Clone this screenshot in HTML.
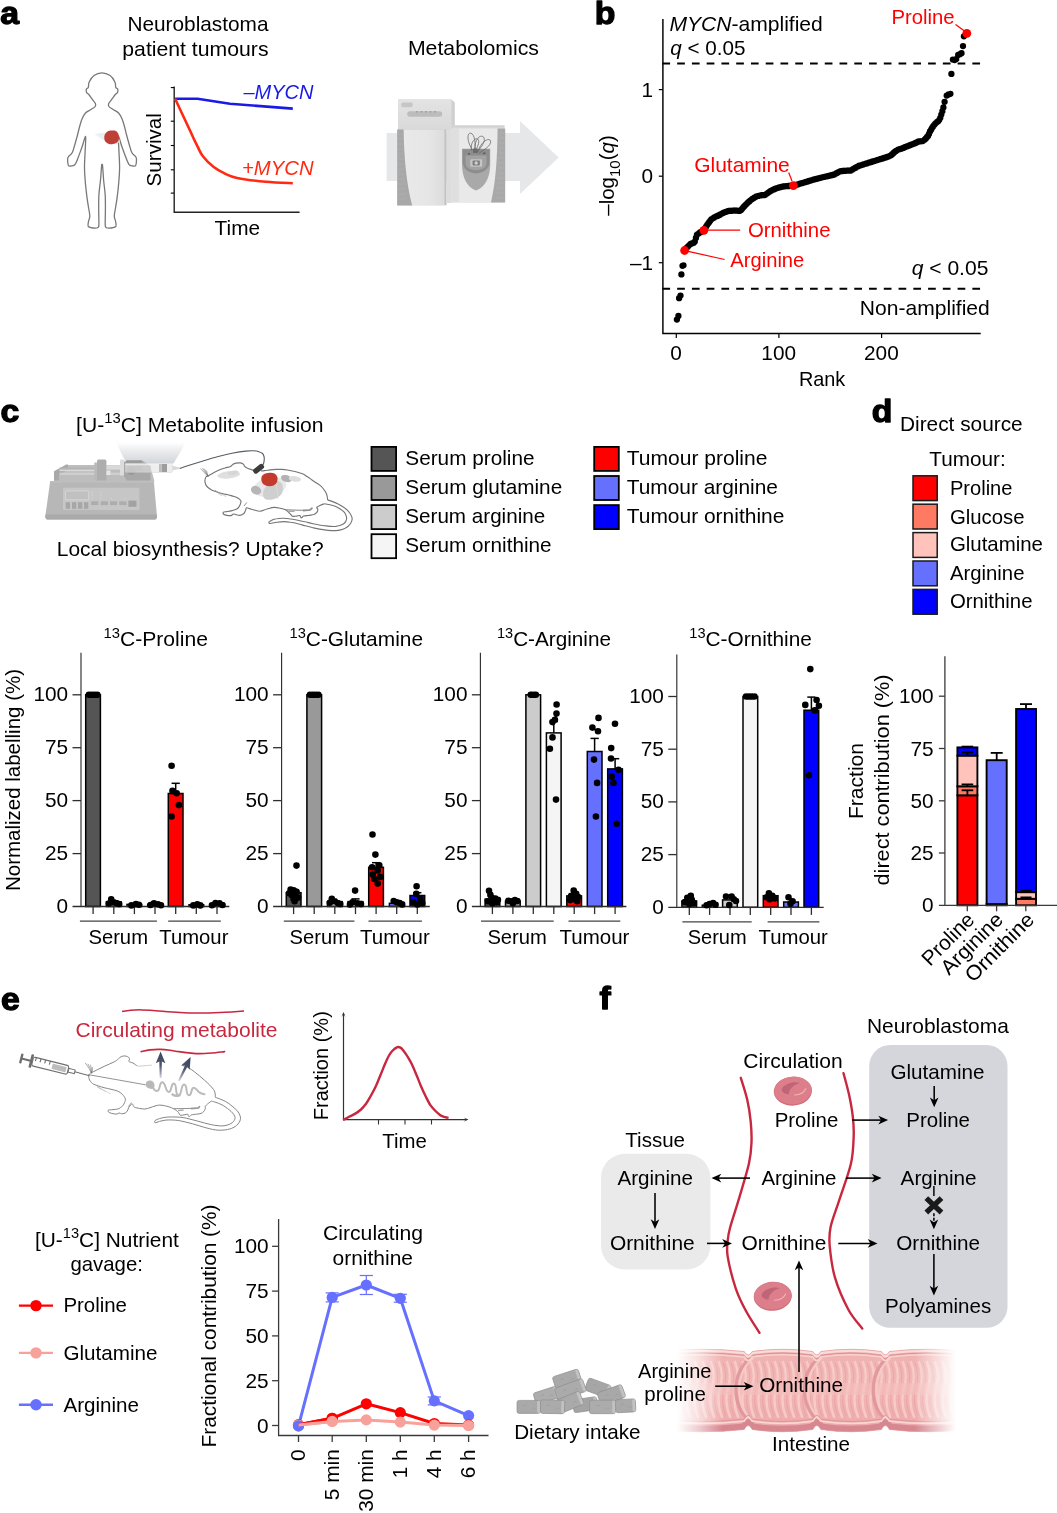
<!DOCTYPE html>
<html><head><meta charset="utf-8"><title>Figure</title>
<style>
html,body{margin:0;padding:0;background:#fff;}
svg{display:block;will-change:transform;font-family:"Liberation Sans", sans-serif;font-size:20.8px;}
text{font-family:"Liberation Sans", sans-serif;}
</style></head><body>
<svg width="1057" height="1513" viewBox="0 0 1057 1513">
<rect width="1057" height="1513" fill="#fff"/>
<g id="pa">
<text transform="translate(0.3 24.2) scale(1.09 1)" font-size="31" font-weight="bold" stroke="#000" stroke-width="1.25" stroke-linejoin="round">a</text>
<text x="127.4" y="31.4" textLength="141.1" lengthAdjust="spacingAndGlyphs">Neuroblastoma</text>
<text x="122.3" y="55.6" textLength="146.2" lengthAdjust="spacingAndGlyphs">patient tumours</text>
<text x="407.9" y="54.9" textLength="131.1" lengthAdjust="spacingAndGlyphs">Metabolomics</text>
<path d="M101.7 72.8C99.0 72.8 96.1 74.0 94.0 75.5C91.9 77.0 90.2 80.0 89.2 82.0C88.2 84.0 88.8 86.3 88.3 87.5C87.8 88.7 86.7 88.2 86.4 89.0C86.1 89.8 86.2 91.6 86.6 92.5C87.0 93.4 87.9 93.4 88.8 94.5C89.7 95.6 91.1 97.7 92.2 99.2C93.3 100.7 94.9 102.3 95.4 103.5C95.9 104.7 95.9 105.5 95.2 106.5C94.5 107.5 92.6 108.4 91.0 109.5C89.4 110.6 87.0 111.4 85.5 113.0C84.0 114.6 83.0 116.7 82.0 119.0C81.0 121.3 80.2 124.3 79.5 127.0C78.8 129.7 78.2 132.2 77.5 135.0C76.8 137.8 75.9 141.1 75.0 144.0C74.1 146.9 73.4 150.4 72.3 152.5C71.2 154.6 69.3 155.3 68.5 156.5C67.7 157.7 67.6 158.0 67.6 159.5C67.6 161.0 67.8 164.4 68.4 165.5C69.0 166.6 69.9 166.1 71.0 166.0C72.1 165.9 73.6 166.1 74.8 164.8C76.0 163.5 76.8 161.0 78.0 158.0C79.2 155.0 80.7 150.6 82.0 147.0C83.3 143.4 85.1 136.0 85.6 136.5C86.1 137.0 85.4 144.9 85.2 150.0C85.0 155.1 84.5 161.7 84.5 167.0C84.5 172.3 84.9 177.0 85.3 182.0C85.7 187.0 86.4 192.5 86.9 196.8C87.5 201.1 88.1 204.8 88.6 208.0C89.1 211.2 89.8 213.7 89.8 216.0C89.8 218.3 88.7 220.2 88.4 222.0C88.2 223.8 87.5 225.5 88.3 226.5C89.1 227.5 91.4 227.8 93.0 228.0C94.6 228.2 97.0 228.2 98.0 227.5C99.0 226.8 98.8 226.9 98.9 224.0C99.0 221.1 98.7 214.8 98.7 210.0C98.7 205.2 98.6 200.0 98.9 195.0C99.2 190.0 100.0 184.8 100.5 180.0C101.0 175.2 101.3 168.6 101.6 166.0C101.8 163.4 101.8 164.6 102.0 164.6C102.2 164.6 102.3 163.4 102.6 166.0C102.9 168.6 103.2 175.2 103.6 180.0C104.0 184.8 104.9 190.0 105.2 195.0C105.5 200.0 105.4 205.2 105.4 210.0C105.4 214.8 105.1 221.1 105.2 224.0C105.3 226.9 105.0 226.8 106.0 227.5C107.0 228.2 109.4 228.2 111.0 228.0C112.6 227.8 115.0 227.5 115.8 226.5C116.6 225.5 116.0 223.8 115.7 222.0C115.5 220.2 114.3 218.3 114.3 216.0C114.3 213.7 115.0 211.2 115.5 208.0C116.0 204.8 116.7 201.1 117.2 196.8C117.8 192.5 118.4 187.0 118.8 182.0C119.2 177.0 119.6 172.3 119.6 167.0C119.6 161.7 119.1 155.1 118.9 150.0C118.7 144.9 118.0 137.0 118.5 136.5C119.0 136.0 120.7 143.4 122.0 147.0C123.3 150.6 124.9 155.0 126.1 158.0C127.3 161.0 128.2 163.5 129.3 164.8C130.5 166.1 131.9 165.9 133.0 166.0C134.1 166.1 135.1 166.6 135.7 165.5C136.3 164.4 136.5 161.0 136.5 159.5C136.5 158.0 136.4 157.7 135.6 156.5C134.8 155.3 132.9 154.6 131.8 152.5C130.7 150.4 130.0 146.9 129.1 144.0C128.2 141.1 127.3 137.8 126.6 135.0C125.8 132.2 125.3 129.7 124.6 127.0C123.8 124.3 123.1 121.3 122.1 119.0C121.1 116.7 120.1 114.6 118.6 113.0C117.1 111.4 114.7 110.6 113.1 109.5C111.5 108.4 109.6 107.5 108.9 106.5C108.2 105.5 108.2 104.7 108.7 103.5C109.2 102.3 110.8 100.7 111.9 99.2C113.0 97.7 114.4 95.6 115.3 94.5C116.2 93.4 117.1 93.4 117.5 92.5C117.9 91.6 118.0 89.8 117.7 89.0C117.4 88.2 116.3 88.7 115.8 87.5C115.3 86.3 115.9 84.0 114.9 82.0C114.0 80.0 112.3 77.0 110.1 75.5C107.9 74.0 104.4 72.8 101.7 72.8Z" fill="#fff" stroke="#787878" stroke-width="1.3"/>
<path d="M94.5 134 L106 132.3 L106 142 Z" fill="#eceff2"/>
<path d="M117 133 L120 142 L116 144 Z" fill="#dcdcdc"/>
<path d="M111.5 130.5C112.9 130.4 114.8 130.2 116.0 131.0C117.2 131.8 118.4 133.4 118.8 135.0C119.2 136.6 119.1 139.1 118.5 140.5C117.9 141.9 116.6 142.9 115.0 143.5C113.4 144.1 110.7 144.4 109.0 144.0C107.3 143.6 105.8 142.4 105.0 141.0C104.2 139.6 104.1 137.1 104.5 135.5C104.9 133.9 106.3 132.3 107.5 131.5C108.7 130.7 110.1 130.6 111.5 130.5Z" fill="#bd3f35"/>
<path d="M174.2 86.6V212.3H299.6" fill="none" stroke="#222" stroke-width="1.4"/>
<line x1="170.8" y1="87.6" x2="174.0" y2="87.6" stroke="#000" stroke-width="1.1"/>
<line x1="170.8" y1="121.2" x2="174.0" y2="121.2" stroke="#000" stroke-width="1.1"/>
<line x1="170.8" y1="145.5" x2="174.0" y2="145.5" stroke="#000" stroke-width="1.1"/>
<line x1="170.8" y1="169.8" x2="174.0" y2="169.8" stroke="#000" stroke-width="1.1"/>
<line x1="170.8" y1="193.1" x2="174.0" y2="193.1" stroke="#000" stroke-width="1.1"/>
<path d="M175.1 98.8L197.5 98.8L229.9 103.8L292.8 108.6" fill="none" stroke="#1a1ae6" stroke-width="2.6" stroke-linejoin="round"/>
<path d="M175.1 98.8L190 130.5C191.2 133.2 195.3 142.1 197.5 146.4C199.7 150.7 200.2 152.9 202.9 156.3C205.6 159.8 210.1 164.2 213.7 167.1C217.3 169.9 220.6 171.6 224.5 173.4C228.4 175.2 230.2 176.5 237.1 177.9C244.0 179.3 256.5 180.9 265.8 181.8C275.1 182.7 288.3 183.0 292.8 183.2" fill="none" stroke="#ff2a12" stroke-width="2.6" stroke-linejoin="round"/>
<text x="243.4" y="99.3" textLength="70.2" lengthAdjust="spacingAndGlyphs" fill="#1a1ae6" font-style="italic">–MYCN</text>
<text x="242.0" y="174.5" textLength="71.6" lengthAdjust="spacingAndGlyphs" fill="#ff2a12" font-style="italic">+MYCN</text>
<text x="0.0" y="0.9" text-anchor="middle" textLength="73.2" lengthAdjust="spacingAndGlyphs" transform="translate(160.0 149.8) rotate(-90)">Survival</text>
<text x="214.6" y="235.3" textLength="45.5" lengthAdjust="spacingAndGlyphs">Time</text>
<path d="M386.6 133H520V121L558.7 157.5L520 194V181H386.6Z" fill="#e6e7e8"/>
<defs><linearGradient id="mg1" x1="0" y1="0" x2="0" y2="1"><stop offset="0" stop-color="#e3e3e3"/><stop offset="1" stop-color="#d9d9d9"/></linearGradient><linearGradient id="mg2" x1="0" y1="0" x2="1" y2="0"><stop offset="0" stop-color="#e9e9e9"/><stop offset="0.6" stop-color="#e6e6e6"/><stop offset="1" stop-color="#dcdcdc"/></linearGradient></defs>
<path d="M398 99.5H451.5L454.8 102.5V129.5H398Z" fill="#cfcfcf"/>
<rect x="398.0" y="99.5" width="53.5" height="30.5" fill="url(#mg1)"/>
<rect x="401.3" y="102.6" width="11.4" height="4.6" fill="#c6c6c6" rx="1.6"/>
<rect x="407.2" y="111.2" width="35.0" height="5.6" fill="#bcbcbc" rx="2.8"/>
<rect x="416.0" y="111.4" width="2.0" height="0.9" fill="#8f8f8f"/>
<rect x="420.5" y="111.4" width="2.0" height="0.9" fill="#8f8f8f"/>
<rect x="425.0" y="111.4" width="2.0" height="0.9" fill="#8f8f8f"/>
<rect x="429.5" y="111.4" width="2.0" height="0.9" fill="#8f8f8f"/>
<rect x="434.0" y="111.4" width="2.0" height="0.9" fill="#8f8f8f"/>
<rect x="397.3" y="129.3" width="48.2" height="76.0" fill="#d3d3d3"/>
<rect x="403.5" y="129.8" width="41.0" height="75.5" fill="url(#mg2)"/>
<path d="M397.2 129.5H403.6C404 158 406.5 184 412.2 205.4H397.2Z" fill="#a8a8a8"/>
<line x1="398.0" y1="134.0" x2="402.0" y2="134.0" stroke="#b6b6b6" stroke-width="0.5"/>
<line x1="398.0" y1="139.0" x2="402.3" y2="139.0" stroke="#b6b6b6" stroke-width="0.5"/>
<line x1="398.0" y1="144.0" x2="402.6" y2="144.0" stroke="#b6b6b6" stroke-width="0.5"/>
<line x1="398.0" y1="149.0" x2="402.9" y2="149.0" stroke="#b6b6b6" stroke-width="0.5"/>
<line x1="398.0" y1="154.0" x2="403.2" y2="154.0" stroke="#b6b6b6" stroke-width="0.5"/>
<line x1="398.0" y1="159.0" x2="403.5" y2="159.0" stroke="#b6b6b6" stroke-width="0.5"/>
<line x1="398.0" y1="164.0" x2="403.8" y2="164.0" stroke="#b6b6b6" stroke-width="0.5"/>
<line x1="398.0" y1="169.0" x2="404.1" y2="169.0" stroke="#b6b6b6" stroke-width="0.5"/>
<line x1="398.0" y1="174.0" x2="404.4" y2="174.0" stroke="#b6b6b6" stroke-width="0.5"/>
<line x1="398.0" y1="179.0" x2="404.7" y2="179.0" stroke="#b6b6b6" stroke-width="0.5"/>
<line x1="398.0" y1="184.0" x2="405.0" y2="184.0" stroke="#b6b6b6" stroke-width="0.5"/>
<line x1="398.0" y1="189.0" x2="405.3" y2="189.0" stroke="#b6b6b6" stroke-width="0.5"/>
<line x1="398.0" y1="194.0" x2="405.6" y2="194.0" stroke="#b6b6b6" stroke-width="0.5"/>
<line x1="398.0" y1="199.0" x2="405.9" y2="199.0" stroke="#b6b6b6" stroke-width="0.5"/>
<rect x="444.6" y="129.6" width="2.0" height="75.6" fill="#c2c2c2"/>
<rect x="446.6" y="129.6" width="5.2" height="73.4" fill="#dddddd"/>
<rect x="451.8" y="125.4" width="52.7" height="77.2" fill="#dfdfdf"/>
<rect x="451.8" y="125.4" width="52.7" height="2.2" fill="#d2d2d2"/>
<rect x="459.0" y="128.8" width="38.6" height="73.4" fill="#e9e9e9"/>
<path d="M505.2 128.6H497.6C497.4 158 495.6 183 491 202.4H505.2Z" fill="#a9a9a9"/>
<line x1="499.5" y1="133.0" x2="504.6" y2="133.0" stroke="#b7b7b7" stroke-width="0.5"/>
<line x1="499.2" y1="138.0" x2="504.6" y2="138.0" stroke="#b7b7b7" stroke-width="0.5"/>
<line x1="499.0" y1="143.0" x2="504.6" y2="143.0" stroke="#b7b7b7" stroke-width="0.5"/>
<line x1="498.8" y1="148.0" x2="504.6" y2="148.0" stroke="#b7b7b7" stroke-width="0.5"/>
<line x1="498.5" y1="153.0" x2="504.6" y2="153.0" stroke="#b7b7b7" stroke-width="0.5"/>
<line x1="498.2" y1="158.0" x2="504.6" y2="158.0" stroke="#b7b7b7" stroke-width="0.5"/>
<line x1="498.0" y1="163.0" x2="504.6" y2="163.0" stroke="#b7b7b7" stroke-width="0.5"/>
<line x1="497.8" y1="168.0" x2="504.6" y2="168.0" stroke="#b7b7b7" stroke-width="0.5"/>
<line x1="497.5" y1="173.0" x2="504.6" y2="173.0" stroke="#b7b7b7" stroke-width="0.5"/>
<line x1="497.2" y1="178.0" x2="504.6" y2="178.0" stroke="#b7b7b7" stroke-width="0.5"/>
<line x1="497.0" y1="183.0" x2="504.6" y2="183.0" stroke="#b7b7b7" stroke-width="0.5"/>
<line x1="496.8" y1="188.0" x2="504.6" y2="188.0" stroke="#b7b7b7" stroke-width="0.5"/>
<line x1="496.5" y1="193.0" x2="504.6" y2="193.0" stroke="#b7b7b7" stroke-width="0.5"/>
<line x1="496.2" y1="198.0" x2="504.6" y2="198.0" stroke="#b7b7b7" stroke-width="0.5"/>
<path d="M462 148.8H490.2V164C490.2 178 485 187 476 190.6C467 187 462 178 462 164Z" fill="#a9a9a9"/>
<path d="M462.6 149.3H489.6V161C489.6 168.5 484.5 172.5 476 173.4C467.5 172.5 462.6 168.5 462.6 161Z" fill="#8d8d8d"/>
<path d="M465.5 155.5H486.5V163C486.5 167.5 482.5 169.8 476 170.3C469.5 169.8 465.5 167.5 465.5 163Z" fill="#a2a2a2"/>
<rect x="470.3" y="159.2" width="11.8" height="7.6" fill="#c6c6c6" rx="1"/>
<rect x="472.6" y="160.4" width="7.2" height="5.2" fill="#7c7c7c" rx="0.8"/>
<circle cx="476.2" cy="163.0" r="1.7" fill="#cfcfcf"/>
<rect x="468.0" y="153.0" width="2.0" height="1.6" fill="#5e5e5e"/>
<rect x="483.0" y="152.5" width="2.4" height="1.6" fill="#5e5e5e"/>
<path d="M472.5 150C466.5 141 467 132.5 470.8 133.2C475 134 476 145 474.3 152.5M475.5 152C473 141 480 133.5 483.6 137C486.5 141 480.5 148 476.5 153M477.5 152.5C481 141 489.5 137 490.6 141C491.3 146 484 149.5 478.8 153.5M471.5 150.5C470 143 475 136.5 478.2 139.5C480 142 477 148 475.5 151" fill="none" stroke="#666" stroke-width="0.75"/>
<rect x="473.0" y="148.5" width="4.5" height="4.5" fill="#6b6b6b" rx="0.8"/>
</g>
<g id="pb">
<text transform="translate(594.8 24.0) scale(1.09 1)" font-size="31" font-weight="bold" stroke="#000" stroke-width="1.25" stroke-linejoin="round">b</text>
<path d="M662.9 19V333.4H980.7" fill="none" stroke="#000" stroke-width="1.45"/>
<line x1="658.8" y1="89.6" x2="662.6" y2="89.6" stroke="#000" stroke-width="1.2"/>
<line x1="658.8" y1="176.2" x2="662.6" y2="176.2" stroke="#000" stroke-width="1.2"/>
<line x1="658.8" y1="262.7" x2="662.6" y2="262.7" stroke="#000" stroke-width="1.2"/>
<line x1="676.3" y1="333.4" x2="676.3" y2="337.9" stroke="#000" stroke-width="1.2"/>
<line x1="778.9" y1="333.4" x2="778.9" y2="337.9" stroke="#000" stroke-width="1.2"/>
<line x1="881.6" y1="333.4" x2="881.6" y2="337.9" stroke="#000" stroke-width="1.2"/>
<text x="653.2" y="96.8" text-anchor="end">1</text>
<text x="653.2" y="183.4" text-anchor="end">0</text>
<text x="653.2" y="269.9" text-anchor="end">–1</text>
<text x="676.0" y="359.8" text-anchor="middle">0</text>
<text x="778.7" y="359.8" text-anchor="middle">100</text>
<text x="881.4" y="359.8" text-anchor="middle">200</text>
<text x="798.9" y="385.8" textLength="46.4" lengthAdjust="spacingAndGlyphs">Rank</text>
<text x="0.0" y="0.9" text-anchor="middle" textLength="80.5" lengthAdjust="spacingAndGlyphs" transform="translate(612.9 175.5) rotate(-90)">–log<tspan font-size="15.3" dy="6">10</tspan><tspan dy="-6">(</tspan><tspan font-style="italic">q</tspan>)</text>
<line x1="662.4" y1="63.6" x2="980.7" y2="63.6" stroke="#000" stroke-width="2" stroke-dasharray="7.7 7.06"/>
<line x1="662.4" y1="288.7" x2="980.7" y2="288.7" stroke="#000" stroke-width="2" stroke-dasharray="7.7 7.06"/>
<text x="669.4" y="31.0" textLength="153.4" lengthAdjust="spacingAndGlyphs"><tspan font-style="italic">MYCN</tspan>-amplified</text>
<text x="670.3" y="55.1" textLength="75.3" lengthAdjust="spacingAndGlyphs"><tspan font-style="italic">q</tspan> &lt; 0.05</text>
<text x="911.7" y="275.3" textLength="76.7" lengthAdjust="spacingAndGlyphs"><tspan font-style="italic">q</tspan> &lt; 0.05</text>
<text x="859.8" y="315.4" textLength="130.0" lengthAdjust="spacingAndGlyphs">Non-amplified</text>
<path d="M676.9 319.6h0M678.4 316.0h0M679.1 298.2h0M680.5 295.6h0M681.4 274.4h0M682.5 265.8h0M683.5 265.3h0M685.6 249.1h0M686.6 247.9h0M687.7 246.8h0M688.7 245.8h0M689.7 244.8h0M690.7 244.0h0M691.8 243.5h0M692.8 243.1h0M693.8 242.7h0M694.8 241.6h0M695.9 238.0h0M696.9 234.9h0M697.9 234.1h0M699.0 233.3h0M700.0 232.5h0M701.0 231.9h0M702.0 231.4h0M703.1 230.8h0M704.1 230.0h0M705.1 228.3h0M706.1 226.7h0M707.2 225.0h0M708.2 223.6h0M709.2 222.2h0M710.2 220.8h0M711.3 219.5h0M712.3 218.8h0M713.3 218.1h0M714.4 217.4h0M715.4 216.8h0M716.4 216.3h0M717.4 215.9h0M718.5 215.4h0M719.5 214.9h0M720.5 214.4h0M721.5 213.8h0M722.6 213.3h0M723.6 212.7h0M724.6 212.3h0M725.7 211.9h0M726.7 211.6h0M727.7 211.2h0M728.7 210.9h0M729.8 210.8h0M730.8 210.8h0M731.8 210.8h0M732.8 210.7h0M733.9 210.7h0M734.9 210.7h0M735.9 210.7h0M737.0 210.7h0M738.0 210.8h0M739.0 210.8h0M740.0 210.8h0M741.1 210.0h0M742.1 208.8h0M743.1 207.6h0M744.1 206.4h0M745.2 205.3h0M746.2 204.3h0M747.2 203.3h0M748.2 202.3h0M749.3 201.4h0M750.3 200.6h0M751.3 199.8h0M752.4 199.0h0M753.4 198.3h0M754.4 197.7h0M755.4 197.1h0M756.5 196.5h0M757.5 196.1h0M758.5 195.9h0M759.5 195.6h0M760.6 195.4h0M761.6 195.2h0M762.6 195.1h0M763.7 195.1h0M764.7 195.0h0M765.7 194.6h0M766.7 193.8h0M767.8 193.1h0M768.8 192.3h0M769.8 191.6h0M770.8 190.9h0M771.9 190.3h0M772.9 189.8h0M773.9 189.4h0M774.9 189.0h0M776.0 188.5h0M777.0 188.1h0M778.0 187.8h0M779.1 187.5h0M780.1 187.2h0M781.1 186.9h0M782.1 186.6h0M783.2 186.5h0M784.2 186.4h0M785.2 186.3h0M786.2 186.2h0M787.3 186.1h0M788.3 186.0h0M789.3 186.0h0M790.4 185.9h0M791.4 185.9h0M792.4 185.8h0M793.4 185.8h0M794.5 185.5h0M795.5 185.1h0M796.5 184.8h0M797.5 184.5h0M798.6 184.2h0M799.6 183.8h0M800.6 183.5h0M801.7 183.2h0M802.7 182.9h0M803.7 182.6h0M804.7 182.3h0M805.8 182.0h0M806.8 181.7h0M807.8 181.4h0M808.8 181.0h0M809.9 180.7h0M810.9 180.4h0M811.9 180.1h0M812.9 179.8h0M814.0 179.5h0M815.0 179.2h0M816.0 178.9h0M817.1 178.7h0M818.1 178.4h0M819.1 178.1h0M820.1 177.9h0M821.2 177.6h0M822.2 177.3h0M823.2 177.1h0M824.2 176.9h0M825.3 176.6h0M826.3 176.4h0M827.3 176.2h0M828.4 175.9h0M829.4 175.7h0M830.4 175.5h0M831.4 175.3h0M832.5 175.0h0M833.5 174.8h0M834.5 174.4h0M835.5 173.8h0M836.6 173.2h0M837.6 172.7h0M838.6 172.1h0M839.7 171.6h0M840.7 171.2h0M841.7 171.1h0M842.7 171.0h0M843.8 170.9h0M844.8 170.8h0M845.8 170.8h0M846.8 170.7h0M847.9 170.7h0M848.9 170.7h0M849.9 170.6h0M850.9 170.5h0M852.0 169.8h0M853.0 169.2h0M854.0 168.6h0M855.1 168.0h0M856.1 167.4h0M857.1 166.8h0M858.1 166.3h0M859.2 165.7h0M860.2 165.4h0M861.2 165.1h0M862.2 164.8h0M863.3 164.5h0M864.3 164.1h0M865.3 163.8h0M866.4 163.5h0M867.4 163.2h0M868.4 162.8h0M869.4 162.5h0M870.5 162.2h0M871.5 161.9h0M872.5 161.5h0M873.5 161.2h0M874.6 160.9h0M875.6 160.6h0M876.6 160.3h0M877.6 159.9h0M878.7 159.6h0M879.7 159.3h0M880.7 159.0h0M881.8 158.7h0M882.8 158.4h0M883.8 158.0h0M884.8 157.7h0M885.9 157.4h0M886.9 157.0h0M887.9 156.7h0M888.9 156.3h0M890.0 155.8h0M891.0 155.3h0M892.0 154.4h0M893.1 153.4h0M894.1 152.5h0M895.1 151.7h0M896.1 151.0h0M897.2 150.3h0M898.2 149.6h0M899.2 149.3h0M900.2 149.0h0M901.3 148.7h0M902.3 148.3h0M903.3 147.9h0M904.4 147.5h0M905.4 147.0h0M906.4 146.6h0M907.4 146.2h0M908.5 145.8h0M909.5 145.4h0M910.5 145.0h0M911.5 144.6h0M912.6 144.2h0M913.6 143.8h0M914.6 143.4h0M915.6 142.9h0M916.7 142.4h0M917.7 142.0h0M918.7 141.5h0M919.8 141.4h0M920.8 141.3h0M921.8 141.2h0M922.8 141.1h0M923.9 140.3h0M924.9 139.5h0M925.9 138.4h0M926.9 137.2h0M928.0 136.0h0M929.0 133.9h0M930.0 131.5h0M931.1 129.7h0M932.1 127.9h0M933.1 126.4h0M934.1 125.1h0M935.2 123.8h0M936.2 122.8h0M937.2 122.0h0M938.2 121.3h0M939.3 119.8h0M940.3 117.8h0M941.3 114.6h0M942.4 111.2h0M943.4 107.5h0M944.6 101.8h0M946.7 95.6h0M948.6 94.4h0M950.4 93.8h0M951.4 73.9h0M952.9 59.6h0M954.7 60.0h0M956.2 59.1h0M958.2 55.0h0M959.9 54.2h0M961.5 53.2h0M963.0 46.1h0M963.9 36.3h0" stroke="#000" stroke-width="6.3" stroke-linecap="round" fill="none"/>
<line x1="955.5" y1="24.5" x2="964.5" y2="31.0" stroke="#ff0000" stroke-width="1.2"/>
<line x1="788.7" y1="172.5" x2="792.0" y2="181.0" stroke="#ff0000" stroke-width="1.2"/>
<line x1="706.0" y1="230.2" x2="740.2" y2="230.2" stroke="#ff0000" stroke-width="1.2"/>
<line x1="686.0" y1="250.9" x2="724.6" y2="259.5" stroke="#ff0000" stroke-width="1.2"/>
<circle cx="966.8" cy="33.3" r="4.4" fill="#ff0000"/>
<circle cx="793.4" cy="185.6" r="4.4" fill="#ff0000"/>
<circle cx="703.9" cy="230.3" r="4.4" fill="#ff0000"/>
<circle cx="684.6" cy="250.5" r="4.4" fill="#ff0000"/>
<text x="891.4" y="24.4" textLength="63.2" lengthAdjust="spacingAndGlyphs" fill="#ff0000">Proline</text>
<text x="694.2" y="171.5" textLength="95.6" lengthAdjust="spacingAndGlyphs" fill="#ff0000">Glutamine</text>
<text x="747.9" y="237.4" textLength="82.6" lengthAdjust="spacingAndGlyphs" fill="#ff0000">Ornithine</text>
<text x="730.3" y="267.1" textLength="74.0" lengthAdjust="spacingAndGlyphs" fill="#ff0000">Arginine</text>
</g>
<g id="pc">
<text transform="translate(0.5 422.2) scale(1.09 1)" font-size="31" font-weight="bold" stroke="#000" stroke-width="1.25" stroke-linejoin="round">c</text>
<text x="76.1" y="431.8" textLength="247.5" lengthAdjust="spacingAndGlyphs">[U-<tspan font-size="14.6" dy="-8.6">13</tspan><tspan dy="8.6">C] Metabolite infusion</tspan></text>
<text x="56.8" y="555.5" textLength="266.8" lengthAdjust="spacingAndGlyphs">Local biosynthesis? Uptake?</text>
<defs><linearGradient id="cone" x1="0" y1="0" x2="0" y2="1"><stop offset="0" stop-color="#ffffff"/><stop offset="0.35" stop-color="#eceef0"/><stop offset="1" stop-color="#d2d5d9"/></linearGradient></defs>
<path d="M116 442.5H186L173.5 463.5H126.5Z" fill="url(#cone)"/>
<path d="M54 481.5L54.5 471.5L66.5 465H150L154.5 481.5Z" fill="#bdbdbd"/>
<path d="M54 480.5V471.3L66.2 464.6H68V469.6L59 475.4V480.5Z" fill="#a9a9a9"/>
<rect x="59.5" y="467.6" width="37.0" height="2.2" fill="#b4b4b4"/>
<rect x="59.5" y="469.6" width="37.0" height="1.6" fill="#d9d9d9"/>
<rect x="59.5" y="472.6" width="62.0" height="2.4" fill="#cfcfcf"/>
<rect x="94.3" y="462.5" width="2.6" height="18.0" fill="#b9b9b9"/>
<path d="M97 461.2Q97 459.6 98.6 459.6H104.8Q106.4 459.6 106.4 461.2V480.5H97Z" fill="#adadad"/>
<rect x="106.4" y="465.2" width="19.0" height="4.4" fill="#d9d9d9"/>
<rect x="106.4" y="470.5" width="4.0" height="4.5" fill="#e6e6e6"/>
<rect x="120.0" y="459.5" width="4.2" height="16.0" fill="#dcdcdc" rx="1"/>
<path d="M124 461.5L142 460.6L150.6 466.2V480.5H127L124 476Z" fill="#a8a8a8"/>
<rect x="126.0" y="460.3" width="16.0" height="3.0" fill="#9c9c9c" rx="1"/>
<circle cx="131.3" cy="470.6" r="4.3" fill="#999999"/>
<rect x="134.0" y="466.0" width="8.0" height="5.0" fill="#9e9e9e" rx="2"/>
<rect x="125.0" y="463.3" width="47.3" height="9.4" fill="#e4e4e4" stroke="#c2c2c2" stroke-width="0.6" rx="1.5" opacity="0.6"/>
<rect x="125.0" y="463.6" width="47.3" height="1.6" fill="#f2f2f2" rx="0.8" opacity="0.7"/>
<rect x="161.8" y="464.0" width="5.2" height="8.0" fill="#8e8e8e" opacity="0.85"/>
<rect x="159.0" y="464.0" width="2.8" height="8.0" fill="#bdbdbd"/>
<path d="M172.3 465.8L180 467.4V468.8L172.3 470.4Z" fill="#d9d9d9"/>
<path d="M50.2 481H153.8L157 516.5Q157 519.6 154 519.6H48.3Q45.3 519.6 45.3 516.5Z" fill="#b7b7b7"/>
<path d="M45.6 514.5H156.8L157 516.5Q157 519.6 154 519.6H48.3Q45.3 519.6 45.3 516.5Z" fill="#aaaaaa"/>
<rect x="50.2" y="481.0" width="103.6" height="1.6" fill="#bfbfbf"/>
<rect x="63.0" y="487.7" width="76.4" height="22.2" fill="#c6c6c6" rx="1"/>
<rect x="65.4" y="491.0" width="23.3" height="8.8" fill="#c0c0c0" stroke="#dadada" stroke-width="0.8" rx="0.8"/>
<rect x="65.7" y="502.2" width="4.3" height="6.6" fill="#a7a7a7"/>
<rect x="72.0" y="502.2" width="4.3" height="6.6" fill="#a7a7a7"/>
<rect x="78.0" y="502.2" width="4.3" height="6.6" fill="#a7a7a7"/>
<rect x="84.0" y="502.2" width="4.3" height="6.6" fill="#a7a7a7"/>
<rect x="91.1" y="501.3" width="7.2" height="3.8" fill="#adadad"/>
<rect x="100.8" y="501.3" width="7.2" height="3.8" fill="#adadad"/>
<rect x="110.0" y="501.3" width="7.2" height="3.8" fill="#adadad"/>
<rect x="119.3" y="501.3" width="7.2" height="3.8" fill="#adadad"/>
<rect x="128.4" y="500.6" width="8.1" height="6.2" fill="#a2a2a2"/>
<circle cx="92.0" cy="492.2" r="0.7" fill="#d6d6d6"/>
<circle cx="92.0" cy="495.3" r="0.7" fill="#d6d6d6"/>
<circle cx="92.0" cy="498.2" r="0.7" fill="#d6d6d6"/>
<circle cx="100.8" cy="492.2" r="0.7" fill="#d6d6d6"/>
<circle cx="100.8" cy="495.3" r="0.7" fill="#d6d6d6"/>
<circle cx="100.8" cy="498.2" r="0.7" fill="#d6d6d6"/>
<circle cx="111.5" cy="498.2" r="0.7" fill="#d6d6d6"/>
<circle cx="125.0" cy="498.2" r="0.7" fill="#d6d6d6"/>
<ellipse cx="228.7" cy="474.9" rx="11.5" ry="3.6" fill="#dfdfdf" transform="rotate(-6 228.7 474.9)"/>
<ellipse cx="233" cy="472.8" rx="5.5" ry="2.2" fill="#d6d6d6" transform="rotate(-10 233 472.8)"/>
<ellipse cx="270" cy="487" rx="16.5" ry="9.8" fill="#e9e9e9" transform="rotate(-12 270 487)"/>
<ellipse cx="256.1" cy="490.3" rx="5.3" ry="4.2" fill="#b6b6b6" transform="rotate(25 256.1 490.3)"/>
<path d="M263 494C263 488 268 483 276 481C282 480.5 284 486 282.5 492C280 498.5 272 500.5 266 499.5C263.5 498.5 263 496.5 263 494Z" fill="#cfcfcf"/>
<path d="M270.5 484L276 481L278 499" fill="none" stroke="#dcdcdc" stroke-width="0.8"/>
<ellipse cx="286.4" cy="478.6" rx="5.6" ry="3.4" fill="#b2b2b2" transform="rotate(18 286.4 478.6)"/>
<ellipse cx="294.9" cy="478.9" rx="6.2" ry="2.8" fill="#dedede" transform="rotate(8 294.9 478.9)"/>
<path d="M269.5 472.8C271.3 472.6 273.2 472.8 274.5 473.5C275.8 474.2 276.9 475.6 277.3 477.0C277.7 478.4 277.6 480.6 277.0 482.0C276.4 483.4 275.1 484.8 273.5 485.5C271.9 486.2 269.3 486.3 267.5 486.0C265.7 485.7 263.8 484.8 262.8 483.5C261.8 482.2 261.2 480.0 261.3 478.5C261.4 477.0 262.1 475.4 263.5 474.5C264.9 473.6 267.7 473.0 269.5 472.8Z" fill="#c23b2c"/>
<path d="M205.0 479.5C205.2 479.1 205.4 477.7 206.0 477.0C206.6 476.3 207.5 476.1 208.8 475.4C210.1 474.7 212.3 473.5 214.0 472.6C215.7 471.7 217.4 470.8 219.2 470.0C221.0 469.2 223.1 468.6 225.0 468.0C226.9 467.4 229.2 467.0 230.5 466.4C231.8 465.8 232.1 464.8 233.0 464.2C233.9 463.6 234.8 463.3 236.0 463.1C237.2 462.9 239.2 462.7 240.5 462.9C241.8 463.1 242.9 463.8 243.6 464.4C244.3 465.0 244.1 465.8 244.7 466.4C245.3 467.0 246.0 467.5 247.0 468.0C248.0 468.5 249.3 468.9 250.5 469.3C251.7 469.7 253.0 470.1 254.0 470.5C255.0 470.9 256.1 471.8 256.5 472.0" fill="none" stroke="#757575" stroke-width="1.15"/>
<path d="M261.0 470.8C261.6 470.8 263.1 470.8 264.6 470.6C266.1 470.5 268.1 470.1 270.0 469.9C271.9 469.7 274.0 469.5 276.0 469.4C278.0 469.3 280.1 469.3 282.0 469.4C283.9 469.5 285.1 469.6 287.3 470.0C289.5 470.4 292.5 470.9 295.0 471.5C297.5 472.1 300.4 472.9 302.5 473.8C304.6 474.7 305.9 475.8 307.5 476.8C309.1 477.8 310.4 478.9 312.0 480.0C313.6 481.1 315.4 482.2 317.0 483.3C318.6 484.4 320.3 485.5 321.5 486.6C322.7 487.7 323.4 488.9 324.2 490.0C325.0 491.1 325.7 492.1 326.2 493.2C326.7 494.3 327.0 495.4 327.2 496.5C327.4 497.6 327.5 499.3 327.6 499.9" fill="none" stroke="#757575" stroke-width="1.15"/>
<path d="M327.6 499.9C328.4 500.2 330.9 501.0 332.6 501.6C334.3 502.2 336.0 502.9 337.6 503.7C339.2 504.5 340.9 505.5 342.5 506.5C344.1 507.5 345.8 508.7 347.0 509.8C348.2 510.9 349.1 512.1 349.9 513.3C350.7 514.5 351.4 515.8 351.8 516.9C352.2 518.0 352.2 519.0 352.0 520.0C351.8 521.0 351.4 522.0 350.8 523.0C350.2 524.0 349.3 525.1 348.4 526.0C347.4 526.9 346.4 527.6 345.1 528.3C343.8 528.9 342.2 529.5 340.6 529.9C339.0 530.3 337.3 530.5 335.7 530.6C334.1 530.7 332.6 530.7 331.0 530.6C329.4 530.5 328.1 530.4 326.2 530.1C324.3 529.9 321.7 529.5 319.5 529.1C317.3 528.7 315.4 528.3 313.0 527.8C310.6 527.2 307.8 526.5 305.3 525.8C302.8 525.1 300.2 524.3 297.8 523.7C295.4 523.1 293.0 522.6 290.6 522.3C288.2 521.9 286.0 521.6 283.7 521.6C281.4 521.6 279.2 521.9 277.0 522.2C274.8 522.5 271.7 523.3 270.4 523.5C269.1 523.7 269.4 523.4 269.2 523.2C269.0 523.1 269.0 522.8 269.0 522.6C269.0 522.4 268.9 522.2 269.0 522.0C269.1 521.8 269.1 521.9 269.5 521.6C269.9 521.3 270.9 520.7 271.7 520.3C272.5 519.9 273.0 519.6 274.2 519.3C275.4 519.0 277.2 518.7 278.8 518.5C280.4 518.3 281.7 518.2 283.7 518.3C285.7 518.4 288.3 518.7 290.7 519.0C293.1 519.3 295.4 519.7 297.8 520.2C300.2 520.7 302.6 521.2 305.0 521.8C307.4 522.3 309.6 523.0 312.0 523.5C314.4 524.0 316.8 524.6 319.2 525.0C321.6 525.4 324.2 525.7 326.2 525.9C328.2 526.1 329.4 526.3 331.0 526.4C332.6 526.5 334.2 526.5 335.7 526.4C337.2 526.2 338.5 525.9 339.8 525.5C341.1 525.1 342.3 524.6 343.3 524.0C344.3 523.4 345.1 522.5 345.6 521.6C346.2 520.7 346.5 519.8 346.6 518.8C346.7 517.8 346.4 516.5 346.0 515.4C345.6 514.3 345.2 513.3 344.2 512.2C343.2 511.1 341.6 509.9 340.2 509.0C338.8 508.1 337.4 507.2 335.7 506.5C334.0 505.8 331.9 505.3 330.0 504.8C328.1 504.3 325.2 503.9 324.3 503.7" fill="none" stroke="#757575" stroke-width="1.15"/>
<path d="M205.0 479.5C205.0 479.9 204.8 481.1 205.0 482.0C205.2 482.9 205.4 484.1 206.0 485.1C206.6 486.1 207.4 487.0 208.3 487.8C209.2 488.6 210.2 489.2 211.6 489.9C213.0 490.6 215.1 491.4 217.0 492.0C218.9 492.6 221.0 493.2 223.0 493.7C225.0 494.2 227.1 494.5 229.0 495.0C230.9 495.5 232.7 495.9 234.3 496.5C235.9 497.1 237.4 497.7 238.5 498.5C239.6 499.3 240.8 500.1 241.0 501.2C241.2 502.3 240.6 503.7 240.0 505.0C239.4 506.3 238.5 507.9 237.2 508.8C235.9 509.7 233.7 510.1 232.0 510.6C230.3 511.1 228.1 511.4 226.8 511.6C225.5 511.8 224.6 511.8 224.0 512.0C223.4 512.2 223.0 512.6 223.0 513.0C223.0 513.4 223.4 514.2 224.0 514.6C224.6 515.0 225.6 515.2 226.8 515.4C228.0 515.6 229.9 515.8 231.0 515.6C232.1 515.4 232.6 514.1 233.5 514.0C234.4 513.9 235.1 514.5 236.2 514.7C237.3 514.9 238.7 515.6 240.0 515.4C241.3 515.2 242.9 514.3 243.8 513.5C244.7 512.7 245.0 511.4 245.5 510.5C246.0 509.6 245.9 508.1 246.6 507.8C247.3 507.5 248.4 508.3 249.5 508.6C250.6 508.9 251.6 509.3 253.3 509.7C255.1 510.1 257.7 511.3 260.0 511.2C262.3 511.1 264.6 509.6 267.0 509.0C269.4 508.4 272.0 507.5 274.2 507.4C276.4 507.3 278.1 507.8 280.0 508.2C281.9 508.6 284.1 509.1 285.5 509.8C286.9 510.5 287.8 511.5 288.7 512.4C289.6 513.3 290.6 514.4 291.2 515.0C291.8 515.6 291.7 515.7 292.0 515.9C292.3 516.1 292.4 516.4 293.1 516.4C293.8 516.4 295.3 516.2 296.4 516.1C297.5 516.0 299.0 515.4 299.7 515.5C300.4 515.6 300.2 516.4 300.5 516.8C300.8 517.2 300.9 517.8 301.2 517.8C301.5 517.8 302.0 517.4 302.4 517.1C302.8 516.8 302.4 516.3 303.5 516.0C304.6 515.7 307.1 515.6 308.8 515.4C310.5 515.1 312.6 514.9 313.9 514.5C315.1 514.1 315.7 513.4 316.3 512.8C316.9 512.2 317.5 511.3 317.7 510.7C317.9 510.1 317.8 509.6 317.6 509.0C317.5 508.4 316.4 508.0 316.8 507.4C317.2 506.8 319.1 505.9 320.3 505.3C321.6 504.7 323.6 504.0 324.3 503.7" fill="none" stroke="#757575" stroke-width="1.15"/>
<path d="M244 506L246.8 502.5" fill="none" stroke="#757575" stroke-width="0.8"/>
<path d="M285.5 509.8L298 510.2L309.2 510.3L312.5 507.9" fill="none" stroke="#757575" stroke-width="0.9"/>
<path d="M303 510.6L310 510L312.3 508" fill="none" stroke="#8e8e8e" stroke-width="1.7"/>
<path d="M288 511.3L294.5 511.3" fill="none" stroke="#a8a8a8" stroke-width="1.5"/>
<line x1="208.0" y1="476.5" x2="200.5" y2="468.5" stroke="#666" stroke-width="0.55"/>
<line x1="208.0" y1="476.5" x2="202.5" y2="468.0" stroke="#666" stroke-width="0.55"/>
<line x1="208.0" y1="476.5" x2="204.5" y2="468.8" stroke="#666" stroke-width="0.55"/>
<line x1="208.0" y1="476.5" x2="206.5" y2="470.5" stroke="#666" stroke-width="0.55"/>
<line x1="215.0" y1="490.5" x2="219.0" y2="493.0" stroke="#999" stroke-width="0.5"/>
<line x1="215.0" y1="490.5" x2="222.0" y2="496.0" stroke="#999" stroke-width="0.5"/>
<line x1="215.0" y1="490.5" x2="226.0" y2="496.5" stroke="#999" stroke-width="0.5"/>
<path d="M179.8 468.4C181.5 467.8 186.1 466.2 190.0 465.0C193.9 463.8 198.4 462.4 203.0 461.0C207.6 459.6 212.5 458.1 217.3 456.8C222.1 455.5 227.3 454.2 232.0 453.3C236.7 452.4 242.2 451.5 245.7 451.1C249.2 450.7 250.8 450.6 253.0 450.7C255.2 450.8 257.3 451.2 258.9 451.7C260.5 452.2 261.6 452.7 262.5 453.5C263.4 454.3 263.7 455.4 264.0 456.5C264.3 457.6 264.3 458.8 264.2 460.0C264.1 461.2 264.0 462.5 263.6 463.5C263.2 464.5 262.3 465.6 262.0 466.0" fill="none" stroke="#555c63" stroke-width="1.1"/>
<rect x="252.6" y="466.1" width="12" height="5.4" rx="2.2" fill="#3c3c3c" transform="rotate(-38 258.6 468.8)"/>
<rect x="371.5" y="446.9" width="24.6" height="24.0" fill="#555555" stroke="#000" stroke-width="1.8"/>
<text x="405.3" y="465.1" textLength="129.2" lengthAdjust="spacingAndGlyphs">Serum proline</text>
<rect x="371.5" y="476.0" width="24.6" height="24.0" fill="#999999" stroke="#000" stroke-width="1.8"/>
<text x="405.3" y="494.2" textLength="156.9" lengthAdjust="spacingAndGlyphs">Serum glutamine</text>
<rect x="371.5" y="505.1" width="24.6" height="24.0" fill="#cccccc" stroke="#000" stroke-width="1.8"/>
<text x="405.3" y="523.3" textLength="139.9" lengthAdjust="spacingAndGlyphs">Serum arginine</text>
<rect x="371.5" y="534.2" width="24.6" height="24.0" fill="#f5f5f5" stroke="#000" stroke-width="1.8"/>
<text x="405.3" y="552.4" textLength="146.3" lengthAdjust="spacingAndGlyphs">Serum ornithine</text>
<rect x="594.2" y="446.9" width="24.6" height="24.0" fill="#ff0000" stroke="#000" stroke-width="1.8"/>
<text x="626.7" y="465.1" textLength="140.7" lengthAdjust="spacingAndGlyphs">Tumour proline</text>
<rect x="594.2" y="476.0" width="24.6" height="24.0" fill="#6670ff" stroke="#000" stroke-width="1.8"/>
<text x="626.7" y="494.2" textLength="151.3" lengthAdjust="spacingAndGlyphs">Tumour arginine</text>
<rect x="594.2" y="505.1" width="24.6" height="24.0" fill="#0000ff" stroke="#000" stroke-width="1.8"/>
<text x="626.7" y="523.3" textLength="157.7" lengthAdjust="spacingAndGlyphs">Tumour ornithine</text>
<text x="0.0" y="0.9" text-anchor="middle" textLength="222.0" lengthAdjust="spacingAndGlyphs" transform="translate(19.2 780.0) rotate(-90)">Normalized labelling (%)</text>
<rect x="85.7" y="694.8" width="14.7" height="211.7" fill="#555555" stroke="#000" stroke-width="1.5"/>
<rect x="106.4" y="901.8" width="14.7" height="4.7" fill="#999999" stroke="#000" stroke-width="1.5"/>
<rect x="127.0" y="904.4" width="14.7" height="2.1" fill="#cccccc" stroke="#000" stroke-width="1.5"/>
<rect x="147.7" y="904.4" width="14.7" height="2.1" fill="#f5f5f5" stroke="#000" stroke-width="1.5"/>
<rect x="168.3" y="793.5" width="14.7" height="113.0" fill="#ff0000" stroke="#000" stroke-width="1.5"/>
<line x1="175.7" y1="793.5" x2="175.7" y2="783.3" stroke="#000" stroke-width="1.5"/>
<line x1="171.6" y1="783.3" x2="179.8" y2="783.3" stroke="#000" stroke-width="1.5"/>
<rect x="189.0" y="904.8" width="14.7" height="1.7" fill="#6670ff" stroke="#000" stroke-width="1.5"/>
<rect x="209.7" y="904.4" width="14.7" height="2.1" fill="#0000ff" stroke="#000" stroke-width="1.5"/>
<line x1="81.0" y1="652.8" x2="81.0" y2="907.1" stroke="#2e2e2e" stroke-width="1.15"/>
<line x1="72.5" y1="906.5" x2="229.3" y2="906.5" stroke="#2e2e2e" stroke-width="1.3"/>
<line x1="72.5" y1="853.6" x2="81.0" y2="853.6" stroke="#2e2e2e" stroke-width="1.3"/>
<line x1="72.5" y1="800.6" x2="81.0" y2="800.6" stroke="#2e2e2e" stroke-width="1.3"/>
<line x1="72.5" y1="747.7" x2="81.0" y2="747.7" stroke="#2e2e2e" stroke-width="1.3"/>
<line x1="72.5" y1="694.8" x2="81.0" y2="694.8" stroke="#2e2e2e" stroke-width="1.3"/>
<line x1="93.1" y1="906.5" x2="93.1" y2="914.1" stroke="#2e2e2e" stroke-width="1.3"/>
<line x1="113.8" y1="906.5" x2="113.8" y2="914.1" stroke="#2e2e2e" stroke-width="1.3"/>
<line x1="134.4" y1="906.5" x2="134.4" y2="914.1" stroke="#2e2e2e" stroke-width="1.3"/>
<line x1="155.0" y1="906.5" x2="155.0" y2="914.1" stroke="#2e2e2e" stroke-width="1.3"/>
<line x1="175.7" y1="906.5" x2="175.7" y2="914.1" stroke="#2e2e2e" stroke-width="1.3"/>
<line x1="196.3" y1="906.5" x2="196.3" y2="914.1" stroke="#2e2e2e" stroke-width="1.3"/>
<line x1="217.0" y1="906.5" x2="217.0" y2="914.1" stroke="#2e2e2e" stroke-width="1.3"/>
<text x="68.1" y="913.0" text-anchor="end">0</text>
<text x="68.1" y="860.1" text-anchor="end">25</text>
<text x="68.1" y="807.1" text-anchor="end">50</text>
<text x="68.1" y="754.2" text-anchor="end">75</text>
<text x="68.1" y="701.3" text-anchor="end">100</text>
<path d="M88.9 694.8h0M91.1 694.8h0M93.1 694.8h0M95.1 694.8h0M97.3 694.8h0M111.2 899.3h0M116.2 903.1h0M113.8 902.3h0M108.8 903.5h0M119.2 904.0h0M135.9 904.0h0M138.9 904.8h0M131.4 905.4h0M154.0 903.3h0M158.0 904.2h0M150.5 905.0h0M161.0 905.2h0M171.6 765.7h0M172.5 790.9h0M178.9 805.1h0M171.6 816.5h0M176.7 793.2h0M197.3 904.4h0M193.3 905.4h0M200.3 905.4h0M215.5 903.1h0M219.5 903.3h0M222.5 905.0h0M212.0 905.2h0" stroke="#000" stroke-width="6.6" stroke-linecap="round" fill="none"/>
<line x1="79.9" y1="921.1" x2="156.9" y2="921.1" stroke="#444" stroke-width="1.3"/>
<line x1="168.2" y1="921.1" x2="220.8" y2="921.1" stroke="#444" stroke-width="1.3"/>
<text x="88.4" y="944.0" textLength="59.6" lengthAdjust="spacingAndGlyphs">Serum</text>
<text x="159.3" y="944.0" textLength="69.1" lengthAdjust="spacingAndGlyphs">Tumour</text>
<text x="103.5" y="646.2" textLength="104.5" lengthAdjust="spacingAndGlyphs"><tspan font-size="14.6" dy="-8.6">13</tspan><tspan dy="8.6">C-Proline</tspan></text>
<rect x="286.3" y="892.7" width="14.7" height="13.8" fill="#555555" stroke="#000" stroke-width="1.5"/>
<line x1="293.6" y1="892.7" x2="293.6" y2="889.6" stroke="#000" stroke-width="1.5"/>
<line x1="289.5" y1="889.6" x2="297.7" y2="889.6" stroke="#000" stroke-width="1.5"/>
<rect x="306.9" y="694.8" width="14.7" height="211.7" fill="#999999" stroke="#000" stroke-width="1.5"/>
<rect x="327.5" y="901.6" width="14.7" height="4.9" fill="#cccccc" stroke="#000" stroke-width="1.5"/>
<rect x="348.1" y="901.6" width="14.7" height="4.9" fill="#f5f5f5" stroke="#000" stroke-width="1.5"/>
<line x1="355.5" y1="901.6" x2="355.5" y2="898.9" stroke="#000" stroke-width="1.5"/>
<line x1="351.4" y1="898.9" x2="359.6" y2="898.9" stroke="#000" stroke-width="1.5"/>
<rect x="368.7" y="867.3" width="14.7" height="39.2" fill="#ff0000" stroke="#000" stroke-width="1.5"/>
<line x1="376.1" y1="867.3" x2="376.1" y2="862.7" stroke="#000" stroke-width="1.5"/>
<line x1="372.0" y1="862.7" x2="380.2" y2="862.7" stroke="#000" stroke-width="1.5"/>
<rect x="389.4" y="903.3" width="14.7" height="3.2" fill="#6670ff" stroke="#000" stroke-width="1.5"/>
<rect x="410.0" y="895.5" width="14.7" height="11.0" fill="#0000ff" stroke="#000" stroke-width="1.5"/>
<line x1="417.3" y1="895.5" x2="417.3" y2="892.7" stroke="#000" stroke-width="1.5"/>
<line x1="413.2" y1="892.7" x2="421.4" y2="892.7" stroke="#000" stroke-width="1.5"/>
<line x1="281.6" y1="652.8" x2="281.6" y2="907.1" stroke="#2e2e2e" stroke-width="1.15"/>
<line x1="273.1" y1="906.5" x2="429.8" y2="906.5" stroke="#2e2e2e" stroke-width="1.3"/>
<line x1="273.1" y1="853.6" x2="281.6" y2="853.6" stroke="#2e2e2e" stroke-width="1.3"/>
<line x1="273.1" y1="800.6" x2="281.6" y2="800.6" stroke="#2e2e2e" stroke-width="1.3"/>
<line x1="273.1" y1="747.7" x2="281.6" y2="747.7" stroke="#2e2e2e" stroke-width="1.3"/>
<line x1="273.1" y1="694.8" x2="281.6" y2="694.8" stroke="#2e2e2e" stroke-width="1.3"/>
<line x1="293.6" y1="906.5" x2="293.6" y2="914.1" stroke="#2e2e2e" stroke-width="1.3"/>
<line x1="314.2" y1="906.5" x2="314.2" y2="914.1" stroke="#2e2e2e" stroke-width="1.3"/>
<line x1="334.8" y1="906.5" x2="334.8" y2="914.1" stroke="#2e2e2e" stroke-width="1.3"/>
<line x1="355.5" y1="906.5" x2="355.5" y2="914.1" stroke="#2e2e2e" stroke-width="1.3"/>
<line x1="376.1" y1="906.5" x2="376.1" y2="914.1" stroke="#2e2e2e" stroke-width="1.3"/>
<line x1="396.7" y1="906.5" x2="396.7" y2="914.1" stroke="#2e2e2e" stroke-width="1.3"/>
<line x1="417.3" y1="906.5" x2="417.3" y2="914.1" stroke="#2e2e2e" stroke-width="1.3"/>
<text x="268.7" y="913.0" text-anchor="end">0</text>
<text x="268.7" y="860.1" text-anchor="end">25</text>
<text x="268.7" y="807.1" text-anchor="end">50</text>
<text x="268.7" y="754.2" text-anchor="end">75</text>
<text x="268.7" y="701.3" text-anchor="end">100</text>
<path d="M296.5 865.6h0M290.6 889.6h0M293.6 890.4h0M296.6 891.7h0M291.6 894.9h0M295.6 895.9h0M293.6 899.1h0M289.1 893.2h0M298.1 897.6h0M294.6 901.2h0M310.0 694.8h0M312.2 694.8h0M314.2 694.8h0M316.2 694.8h0M318.4 694.8h0M331.8 898.9h0M334.8 901.2h0M337.8 903.1h0M340.3 904.0h0M329.8 902.7h0M355.1 890.6h0M352.5 902.3h0M357.5 903.3h0M361.0 904.0h0M350.0 904.4h0M372.5 834.5h0M375.4 854.6h0M379.3 865.4h0M377.7 870.5h0M372.7 874.5h0M374.3 879.0h0M377.7 883.6h0M380.1 876.9h0M372.1 867.3h0M393.7 901.0h0M396.7 902.3h0M399.7 903.1h0M402.2 904.4h0M416.6 886.2h0M416.3 893.8h0M420.3 899.1h0M413.3 902.3h0M422.3 903.3h0M417.3 904.4h0" stroke="#000" stroke-width="6.6" stroke-linecap="round" fill="none"/>
<line x1="283.8" y1="921.1" x2="354.4" y2="921.1" stroke="#444" stroke-width="1.3"/>
<line x1="368.5" y1="921.1" x2="421.9" y2="921.1" stroke="#444" stroke-width="1.3"/>
<text x="289.5" y="944.0" textLength="59.5" lengthAdjust="spacingAndGlyphs">Serum</text>
<text x="360.0" y="944.0" textLength="69.8" lengthAdjust="spacingAndGlyphs">Tumour</text>
<text x="289.5" y="646.2" textLength="133.5" lengthAdjust="spacingAndGlyphs"><tspan font-size="14.6" dy="-8.6">13</tspan><tspan dy="8.6">C-Glutamine</tspan></text>
<rect x="485.1" y="899.1" width="14.7" height="7.4" fill="#555555" stroke="#000" stroke-width="1.5"/>
<line x1="492.4" y1="899.1" x2="492.4" y2="896.8" stroke="#000" stroke-width="1.5"/>
<line x1="488.3" y1="896.8" x2="496.5" y2="896.8" stroke="#000" stroke-width="1.5"/>
<rect x="505.5" y="901.2" width="14.7" height="5.3" fill="#999999" stroke="#000" stroke-width="1.5"/>
<rect x="525.9" y="694.8" width="14.7" height="211.7" fill="#cccccc" stroke="#000" stroke-width="1.5"/>
<rect x="546.4" y="732.9" width="14.7" height="173.6" fill="#f5f5f5" stroke="#000" stroke-width="1.5"/>
<line x1="553.8" y1="732.9" x2="553.8" y2="721.5" stroke="#000" stroke-width="1.5"/>
<line x1="549.6" y1="721.5" x2="557.9" y2="721.5" stroke="#000" stroke-width="1.5"/>
<rect x="566.8" y="895.9" width="14.7" height="10.6" fill="#ff0000" stroke="#000" stroke-width="1.5"/>
<line x1="574.2" y1="895.9" x2="574.2" y2="893.8" stroke="#000" stroke-width="1.5"/>
<line x1="570.1" y1="893.8" x2="578.3" y2="893.8" stroke="#000" stroke-width="1.5"/>
<rect x="587.3" y="751.5" width="14.7" height="155.0" fill="#6670ff" stroke="#000" stroke-width="1.5"/>
<line x1="594.6" y1="751.5" x2="594.6" y2="738.4" stroke="#000" stroke-width="1.5"/>
<line x1="590.5" y1="738.4" x2="598.8" y2="738.4" stroke="#000" stroke-width="1.5"/>
<rect x="607.7" y="768.9" width="14.7" height="137.6" fill="#0000ff" stroke="#000" stroke-width="1.5"/>
<line x1="615.1" y1="768.9" x2="615.1" y2="758.7" stroke="#000" stroke-width="1.5"/>
<line x1="611.0" y1="758.7" x2="619.2" y2="758.7" stroke="#000" stroke-width="1.5"/>
<line x1="480.4" y1="652.8" x2="480.4" y2="907.1" stroke="#2e2e2e" stroke-width="1.15"/>
<line x1="471.9" y1="906.5" x2="626.4" y2="906.5" stroke="#2e2e2e" stroke-width="1.3"/>
<line x1="471.9" y1="853.6" x2="480.4" y2="853.6" stroke="#2e2e2e" stroke-width="1.3"/>
<line x1="471.9" y1="800.6" x2="480.4" y2="800.6" stroke="#2e2e2e" stroke-width="1.3"/>
<line x1="471.9" y1="747.7" x2="480.4" y2="747.7" stroke="#2e2e2e" stroke-width="1.3"/>
<line x1="471.9" y1="694.8" x2="480.4" y2="694.8" stroke="#2e2e2e" stroke-width="1.3"/>
<line x1="492.4" y1="906.5" x2="492.4" y2="914.1" stroke="#2e2e2e" stroke-width="1.3"/>
<line x1="512.9" y1="906.5" x2="512.9" y2="914.1" stroke="#2e2e2e" stroke-width="1.3"/>
<line x1="533.3" y1="906.5" x2="533.3" y2="914.1" stroke="#2e2e2e" stroke-width="1.3"/>
<line x1="553.8" y1="906.5" x2="553.8" y2="914.1" stroke="#2e2e2e" stroke-width="1.3"/>
<line x1="574.2" y1="906.5" x2="574.2" y2="914.1" stroke="#2e2e2e" stroke-width="1.3"/>
<line x1="594.6" y1="906.5" x2="594.6" y2="914.1" stroke="#2e2e2e" stroke-width="1.3"/>
<line x1="615.1" y1="906.5" x2="615.1" y2="914.1" stroke="#2e2e2e" stroke-width="1.3"/>
<text x="467.5" y="913.0" text-anchor="end">0</text>
<text x="467.5" y="860.1" text-anchor="end">25</text>
<text x="467.5" y="807.1" text-anchor="end">50</text>
<text x="467.5" y="754.2" text-anchor="end">75</text>
<text x="467.5" y="701.3" text-anchor="end">100</text>
<path d="M489.0 890.8h0M490.4 894.9h0M492.4 898.0h0M495.4 898.5h0M487.9 901.2h0M496.9 902.3h0M492.4 903.3h0M497.9 899.7h0M508.4 900.8h0M511.9 901.2h0M514.9 900.1h0M517.4 901.0h0M512.9 903.3h0M530.8 694.8h0M532.3 694.8h0M534.3 694.8h0M535.8 694.8h0M556.6 704.5h0M556.5 713.6h0M554.9 719.8h0M552.5 722.1h0M552.5 737.4h0M549.9 748.8h0M556.0 799.6h0M573.7 890.6h0M576.2 893.8h0M571.2 895.9h0M578.2 897.0h0M574.2 899.1h0M570.2 900.1h0M577.2 901.2h0M598.5 717.9h0M592.4 727.6h0M598.0 731.2h0M594.0 759.6h0M597.1 782.9h0M595.9 816.5h0M615.0 723.8h0M611.2 748.1h0M611.0 758.5h0M618.5 769.7h0M611.7 776.5h0M613.5 782.9h0M616.6 823.7h0" stroke="#000" stroke-width="6.6" stroke-linecap="round" fill="none"/>
<line x1="481.0" y1="921.1" x2="553.7" y2="921.1" stroke="#444" stroke-width="1.3"/>
<line x1="568.5" y1="921.1" x2="620.3" y2="921.1" stroke="#444" stroke-width="1.3"/>
<text x="487.4" y="944.0" textLength="59.5" lengthAdjust="spacingAndGlyphs">Serum</text>
<text x="559.5" y="944.0" textLength="69.9" lengthAdjust="spacingAndGlyphs">Tumour</text>
<text x="497.0" y="646.2" textLength="114.0" lengthAdjust="spacingAndGlyphs"><tspan font-size="14.6" dy="-8.6">13</tspan><tspan dy="8.6">C-Arginine</tspan></text>
<rect x="681.9" y="901.0" width="14.7" height="6.3" fill="#555555" stroke="#000" stroke-width="1.5"/>
<rect x="702.3" y="905.2" width="14.7" height="2.1" fill="#999999" stroke="#000" stroke-width="1.5"/>
<rect x="722.6" y="899.9" width="14.7" height="7.4" fill="#cccccc" stroke="#000" stroke-width="1.5"/>
<rect x="743.0" y="696.5" width="14.7" height="210.8" fill="#f5f5f5" stroke="#000" stroke-width="1.5"/>
<rect x="763.3" y="895.7" width="14.7" height="11.6" fill="#ff0000" stroke="#000" stroke-width="1.5"/>
<rect x="783.7" y="902.0" width="14.7" height="5.3" fill="#6670ff" stroke="#000" stroke-width="1.5"/>
<rect x="804.0" y="710.2" width="14.7" height="197.1" fill="#0000ff" stroke="#000" stroke-width="1.5"/>
<line x1="811.4" y1="710.2" x2="811.4" y2="697.1" stroke="#000" stroke-width="1.5"/>
<line x1="807.3" y1="697.1" x2="815.5" y2="697.1" stroke="#000" stroke-width="1.5"/>
<line x1="676.8" y1="654.5" x2="676.8" y2="907.9" stroke="#2e2e2e" stroke-width="1.15"/>
<line x1="668.3" y1="907.3" x2="823.7" y2="907.3" stroke="#2e2e2e" stroke-width="1.3"/>
<line x1="668.3" y1="854.6" x2="676.8" y2="854.6" stroke="#2e2e2e" stroke-width="1.3"/>
<line x1="668.3" y1="801.9" x2="676.8" y2="801.9" stroke="#2e2e2e" stroke-width="1.3"/>
<line x1="668.3" y1="749.2" x2="676.8" y2="749.2" stroke="#2e2e2e" stroke-width="1.3"/>
<line x1="668.3" y1="696.5" x2="676.8" y2="696.5" stroke="#2e2e2e" stroke-width="1.3"/>
<line x1="689.3" y1="907.3" x2="689.3" y2="914.9" stroke="#2e2e2e" stroke-width="1.3"/>
<line x1="709.6" y1="907.3" x2="709.6" y2="914.9" stroke="#2e2e2e" stroke-width="1.3"/>
<line x1="730.0" y1="907.3" x2="730.0" y2="914.9" stroke="#2e2e2e" stroke-width="1.3"/>
<line x1="750.3" y1="907.3" x2="750.3" y2="914.9" stroke="#2e2e2e" stroke-width="1.3"/>
<line x1="770.7" y1="907.3" x2="770.7" y2="914.9" stroke="#2e2e2e" stroke-width="1.3"/>
<line x1="791.0" y1="907.3" x2="791.0" y2="914.9" stroke="#2e2e2e" stroke-width="1.3"/>
<line x1="811.4" y1="907.3" x2="811.4" y2="914.9" stroke="#2e2e2e" stroke-width="1.3"/>
<text x="663.9" y="913.8" text-anchor="end">0</text>
<text x="663.9" y="861.1" text-anchor="end">25</text>
<text x="663.9" y="808.4" text-anchor="end">50</text>
<text x="663.9" y="755.7" text-anchor="end">75</text>
<text x="663.9" y="703.0" text-anchor="end">100</text>
<path d="M690.8 895.9h0M687.3 897.8h0M691.8 899.9h0M684.8 902.0h0M693.8 903.1h0M689.3 904.1h0M709.6 904.1h0M713.1 903.1h0M706.6 905.2h0M715.6 904.8h0M726.0 896.5h0M731.6 896.5h0M733.8 899.3h0M729.3 905.0h0M736.0 901.0h0M746.1 696.5h0M748.3 696.5h0M750.3 696.5h0M752.3 696.5h0M754.5 696.5h0M768.9 893.4h0M772.3 895.9h0M769.7 899.3h0M766.7 897.2h0M774.7 898.4h0M788.5 897.2h0M792.6 901.2h0M790.5 903.7h0M810.3 669.1h0M805.3 704.9h0M816.6 700.1h0M818.9 705.8h0M814.8 710.4h0M808.9 775.3h0" stroke="#000" stroke-width="6.6" stroke-linecap="round" fill="none"/>
<line x1="682.4" y1="921.9" x2="751.7" y2="921.9" stroke="#444" stroke-width="1.3"/>
<line x1="767.6" y1="921.9" x2="819.4" y2="921.9" stroke="#444" stroke-width="1.3"/>
<text x="687.7" y="944.0" textLength="59.0" lengthAdjust="spacingAndGlyphs">Serum</text>
<text x="758.5" y="944.0" textLength="69.3" lengthAdjust="spacingAndGlyphs">Tumour</text>
<text x="689.3" y="646.2" textLength="122.6" lengthAdjust="spacingAndGlyphs"><tspan font-size="14.6" dy="-8.6">13</tspan><tspan dy="8.6">C-Ornithine</tspan></text>
</g>
<g id="pd">
<text transform="translate(871.7 422.2) scale(1.09 1)" font-size="31" font-weight="bold" stroke="#000" stroke-width="1.25" stroke-linejoin="round">d</text>
<text x="900.0" y="430.7" textLength="122.7" lengthAdjust="spacingAndGlyphs">Direct source</text>
<text x="929.3" y="465.7" textLength="76.4" lengthAdjust="spacingAndGlyphs">Tumour:</text>
<rect x="913.0" y="475.8" width="24.2" height="24.8" fill="#ff0000" stroke="#1a1a1a" stroke-width="1.5"/>
<text x="949.9" y="495.2" textLength="62.6" lengthAdjust="spacingAndGlyphs">Proline</text>
<rect x="913.0" y="504.2" width="24.2" height="24.8" fill="#ff7a63" stroke="#1a1a1a" stroke-width="1.5"/>
<text x="949.9" y="524.2" textLength="74.6" lengthAdjust="spacingAndGlyphs">Glucose</text>
<rect x="913.0" y="532.6" width="24.2" height="24.8" fill="#ffc3bb" stroke="#1a1a1a" stroke-width="1.5"/>
<text x="949.9" y="551.3" textLength="93.1" lengthAdjust="spacingAndGlyphs">Glutamine</text>
<rect x="913.0" y="561.0" width="24.2" height="24.8" fill="#6670ff" stroke="#1a1a1a" stroke-width="1.5"/>
<text x="949.9" y="580.0" textLength="74.6" lengthAdjust="spacingAndGlyphs">Arginine</text>
<rect x="913.0" y="589.4" width="24.2" height="24.8" fill="#0000ff" stroke="#1a1a1a" stroke-width="1.5"/>
<text x="949.9" y="607.8" textLength="82.6" lengthAdjust="spacingAndGlyphs">Ornithine</text>
<rect x="957.4" y="795.3" width="20.0" height="110.0" fill="#ff0000" stroke="#000" stroke-width="1.9"/>
<rect x="957.4" y="786.3" width="20.0" height="9.0" fill="#ff7a63" stroke="#000" stroke-width="1.9"/>
<rect x="957.4" y="755.6" width="20.0" height="30.7" fill="#ffc3bb" stroke="#000" stroke-width="1.9"/>
<rect x="957.4" y="747.4" width="20.0" height="8.2" fill="#0000ff" stroke="#000" stroke-width="1.9"/>
<line x1="967.4" y1="795.3" x2="967.4" y2="790.3" stroke="#000" stroke-width="1.8"/>
<line x1="961.6" y1="790.3" x2="973.2" y2="790.3" stroke="#000" stroke-width="1.8"/>
<line x1="967.4" y1="786.3" x2="967.4" y2="784.4" stroke="#000" stroke-width="1.8"/>
<line x1="961.6" y1="784.4" x2="973.2" y2="784.4" stroke="#000" stroke-width="1.8"/>
<line x1="967.4" y1="755.6" x2="967.4" y2="752.4" stroke="#000" stroke-width="1.8"/>
<line x1="961.6" y1="752.4" x2="973.2" y2="752.4" stroke="#000" stroke-width="1.8"/>
<line x1="967.4" y1="747.4" x2="967.4" y2="746.6" stroke="#000" stroke-width="1.8"/>
<line x1="961.6" y1="746.6" x2="973.2" y2="746.6" stroke="#000" stroke-width="1.8"/>
<rect x="986.6" y="904.0" width="20.1" height="1.3" fill="#000" stroke="#000" stroke-width="1.9"/>
<rect x="986.6" y="760.2" width="20.1" height="143.9" fill="#6670ff" stroke="#000" stroke-width="1.9"/>
<line x1="996.7" y1="760.2" x2="996.7" y2="752.9" stroke="#000" stroke-width="1.8"/>
<line x1="990.7" y1="752.9" x2="1002.7" y2="752.9" stroke="#000" stroke-width="1.8"/>
<rect x="1016.1" y="898.8" width="19.9" height="6.5" fill="#ff7a63" stroke="#000" stroke-width="1.9"/>
<rect x="1016.1" y="892.1" width="19.9" height="6.7" fill="#ffc3bb" stroke="#000" stroke-width="1.9"/>
<rect x="1016.1" y="709.0" width="19.9" height="183.2" fill="#0000ff" stroke="#000" stroke-width="1.9"/>
<line x1="1026.0" y1="709.0" x2="1026.0" y2="704.1" stroke="#000" stroke-width="1.8"/>
<line x1="1020.0" y1="704.1" x2="1032.0" y2="704.1" stroke="#000" stroke-width="1.8"/>
<line x1="1026.0" y1="898.8" x2="1026.0" y2="897.4" stroke="#000" stroke-width="1.8"/>
<line x1="1020.5" y1="897.4" x2="1031.5" y2="897.4" stroke="#000" stroke-width="1.8"/>
<line x1="1026.0" y1="892.1" x2="1026.0" y2="890.7" stroke="#000" stroke-width="1.8"/>
<line x1="1020.5" y1="890.7" x2="1031.5" y2="890.7" stroke="#000" stroke-width="1.8"/>
<line x1="944.9" y1="656.2" x2="944.9" y2="905.9" stroke="#3a3a3a" stroke-width="1.3"/>
<line x1="938.9" y1="905.3" x2="1057.0" y2="905.3" stroke="#3a3a3a" stroke-width="1.3"/>
<line x1="938.9" y1="853.0" x2="944.9" y2="853.0" stroke="#3a3a3a" stroke-width="1.3"/>
<line x1="938.9" y1="800.8" x2="944.9" y2="800.8" stroke="#3a3a3a" stroke-width="1.3"/>
<line x1="938.9" y1="748.5" x2="944.9" y2="748.5" stroke="#3a3a3a" stroke-width="1.3"/>
<line x1="938.9" y1="696.2" x2="944.9" y2="696.2" stroke="#3a3a3a" stroke-width="1.3"/>
<line x1="967.3" y1="905.3" x2="967.3" y2="911.3" stroke="#3a3a3a" stroke-width="1.3"/>
<line x1="996.6" y1="905.3" x2="996.6" y2="911.3" stroke="#3a3a3a" stroke-width="1.3"/>
<line x1="1025.8" y1="905.3" x2="1025.8" y2="911.3" stroke="#3a3a3a" stroke-width="1.3"/>
<text x="933.7" y="912.3" text-anchor="end">0</text>
<text x="933.7" y="860.0" text-anchor="end">25</text>
<text x="933.7" y="807.8" text-anchor="end">50</text>
<text x="933.7" y="755.5" text-anchor="end">75</text>
<text x="933.7" y="703.2" text-anchor="end">100</text>
<text x="0.0" y="0.9" text-anchor="middle" textLength="76.0" lengthAdjust="spacingAndGlyphs" transform="translate(862.3 781.0) rotate(-90)">Fraction</text>
<text x="0.0" y="0.9" text-anchor="middle" textLength="211.0" lengthAdjust="spacingAndGlyphs" transform="translate(887.8 780.0) rotate(-90)">direct contribution (%)</text>
<text x="0.0" y="0.9" text-anchor="end" textLength="65.0" lengthAdjust="spacingAndGlyphs" transform="translate(975.2 920.3) rotate(-45)">Proline</text>
<text x="0.0" y="0.9" text-anchor="end" textLength="78.0" lengthAdjust="spacingAndGlyphs" transform="translate(1003.6 920.3) rotate(-45)">Arginine</text>
<text x="0.0" y="0.9" text-anchor="end" textLength="88.0" lengthAdjust="spacingAndGlyphs" transform="translate(1034.8 920.3) rotate(-45)">Ornithine</text>
</g>
<g id="pe">
<text transform="translate(1.1 1009.5) scale(1.09 1)" font-size="31" font-weight="bold" stroke="#000" stroke-width="1.25" stroke-linejoin="round">e</text>
<text x="75.5" y="1037.4" textLength="202.0" lengthAdjust="spacingAndGlyphs" fill="#c8283f">Circulating metabolite</text>
<path d="M122 1011.5C140 1008 155 1011 180 1012.5C205 1014 225 1012.5 244 1011" fill="none" stroke="#c8283f" stroke-width="1.5"/>
<path d="M141.2 1051.6C142.7 1051.3 146.8 1050.3 150.0 1049.9C153.2 1049.5 157.0 1049.3 160.3 1049.4C163.6 1049.5 166.9 1049.9 170.0 1050.3C173.1 1050.7 175.8 1051.2 179.0 1051.6C182.2 1052.0 185.6 1052.6 189.0 1052.9C192.4 1053.2 195.6 1053.6 199.4 1053.6C203.2 1053.6 207.8 1053.3 212.0 1053.0C216.2 1052.7 222.5 1051.8 224.6 1051.6" fill="none" stroke="#c8283f" stroke-width="1.6" stroke-linecap="round"/>
<path d="M88.7 1074.9C89.0 1074.6 89.7 1073.6 90.5 1073.0C91.3 1072.4 92.4 1072.2 93.8 1071.5C95.2 1070.8 97.3 1069.8 99.0 1068.9C100.7 1068.1 102.3 1067.2 104.1 1066.4C105.8 1065.6 107.8 1064.8 109.5 1064.0C111.2 1063.2 113.1 1062.4 114.3 1061.8C115.5 1061.2 116.1 1060.7 116.8 1060.2C117.5 1059.7 117.8 1059.3 118.5 1058.7C119.2 1058.1 120.2 1057.2 121.1 1056.7C122.0 1056.2 122.9 1056.1 123.8 1056.0C124.7 1055.9 125.5 1056.0 126.2 1056.2C127.0 1056.4 127.8 1056.6 128.3 1057.0C128.8 1057.4 129.1 1057.9 129.3 1058.4C129.5 1058.9 129.5 1059.5 129.4 1060.0C129.3 1060.5 128.6 1060.9 128.8 1061.3C129.0 1061.7 129.9 1062.0 130.6 1062.3C131.3 1062.6 132.2 1062.6 133.0 1063.0C133.8 1063.4 134.6 1064.1 135.3 1064.6C136.0 1065.1 137.0 1065.7 137.3 1065.9" fill="none" stroke="#858585" stroke-width="1"/>
<path d="M137.3 1065.9C137.8 1066.0 139.0 1066.2 140.0 1066.2C141.0 1066.2 141.9 1066.0 143.2 1065.9C144.4 1065.8 146.1 1065.6 147.5 1065.5C148.9 1065.4 151.0 1065.2 151.7 1065.2" fill="none" stroke="#c4c4c4" stroke-width="0.9"/>
<path d="M182.4 1065.5C183.0 1065.7 184.7 1066.1 185.8 1066.5C186.9 1066.9 187.8 1067.2 189.2 1068.1C190.6 1069.0 192.6 1070.4 194.3 1071.7C196.0 1073.0 197.7 1074.4 199.4 1075.8C201.1 1077.2 202.9 1078.8 204.6 1080.3C206.3 1081.8 208.3 1083.7 209.6 1085.0C210.9 1086.3 211.5 1087.0 212.3 1088.0C213.1 1089.0 213.8 1089.7 214.3 1090.7C214.8 1091.7 215.0 1092.9 215.2 1094.0C215.4 1095.1 215.3 1096.8 215.3 1097.3" fill="none" stroke="#858585" stroke-width="1"/>
<path d="M215.3 1097.3C216.2 1097.6 218.8 1098.5 220.5 1099.2C222.2 1099.9 224.0 1100.6 225.7 1101.6C227.4 1102.5 229.0 1103.7 230.6 1104.9C232.2 1106.1 233.8 1107.5 235.1 1108.7C236.4 1109.9 237.4 1110.9 238.2 1112.0C239.0 1113.1 239.5 1114.3 239.9 1115.3C240.3 1116.3 240.5 1117.2 240.5 1118.2C240.5 1119.2 240.3 1120.0 239.9 1121.0C239.5 1122.0 238.8 1123.1 238.0 1124.0C237.2 1124.9 236.2 1125.9 235.1 1126.6C234.0 1127.3 232.8 1127.9 231.6 1128.4C230.3 1128.9 229.0 1129.2 227.6 1129.5C226.2 1129.8 224.6 1130.0 223.0 1130.1C221.4 1130.2 219.8 1130.3 218.1 1130.2C216.3 1130.1 214.4 1129.8 212.5 1129.4C210.6 1129.0 209.0 1128.6 206.8 1128.0C204.6 1127.4 201.9 1126.6 199.5 1125.9C197.1 1125.2 194.9 1124.5 192.6 1123.8C190.3 1123.1 187.9 1122.5 185.5 1122.0C183.1 1121.5 180.6 1120.8 178.4 1120.5C176.2 1120.2 174.4 1120.1 172.5 1120.0C170.6 1119.9 168.6 1119.9 167.0 1120.0C165.4 1120.1 164.2 1120.4 163.0 1120.6C161.8 1120.8 160.5 1121.1 159.5 1121.4C158.5 1121.7 157.7 1122.0 157.0 1122.2C156.3 1122.4 155.6 1122.8 155.2 1122.7C154.8 1122.7 154.6 1122.3 154.6 1121.9C154.6 1121.5 154.8 1120.9 155.2 1120.5C155.6 1120.1 156.5 1119.7 157.2 1119.4C157.9 1119.1 158.4 1118.9 159.5 1118.6C160.6 1118.3 162.4 1117.8 164.0 1117.5C165.6 1117.2 166.9 1117.1 168.9 1117.0C170.9 1116.9 173.6 1116.9 176.0 1117.0C178.4 1117.1 180.8 1117.2 183.1 1117.6C185.4 1117.9 187.6 1118.5 190.0 1119.1C192.4 1119.7 194.9 1120.3 197.3 1121.0C199.7 1121.7 202.1 1122.4 204.5 1123.0C206.9 1123.6 209.4 1124.3 211.5 1124.7C213.6 1125.1 215.3 1125.4 217.0 1125.6C218.7 1125.8 220.4 1125.9 221.9 1125.9C223.4 1125.9 224.7 1125.7 226.0 1125.4C227.3 1125.1 228.4 1124.8 229.5 1124.3C230.6 1123.8 231.5 1123.2 232.3 1122.6C233.1 1122.0 233.8 1121.2 234.2 1120.5C234.6 1119.8 234.9 1119.0 235.0 1118.3C235.1 1117.6 235.1 1117.1 234.7 1116.2C234.3 1115.3 233.5 1114.0 232.6 1113.0C231.7 1112.0 230.7 1111.1 229.5 1110.1C228.3 1109.1 226.9 1108.0 225.5 1107.0C224.1 1106.0 222.6 1105.2 221.0 1104.4C219.4 1103.6 217.6 1103.0 216.0 1102.4C214.4 1101.9 212.2 1101.3 211.5 1101.1" fill="none" stroke="#858585" stroke-width="1"/>
<path d="M88.7 1074.9C88.7 1075.3 88.7 1076.7 88.8 1077.5C88.9 1078.3 89.2 1079.2 89.6 1080.0C90.0 1080.8 90.6 1081.7 91.3 1082.4C92.0 1083.1 92.5 1083.7 93.8 1084.3C95.0 1084.9 97.1 1085.5 98.8 1086.1C100.5 1086.7 102.1 1087.2 104.1 1087.7C106.1 1088.2 108.7 1088.7 111.0 1089.3C113.3 1089.9 115.8 1090.3 117.7 1091.1C119.6 1091.9 121.0 1093.0 122.3 1094.3C123.6 1095.6 124.9 1097.4 125.3 1098.8C125.7 1100.2 125.0 1101.4 124.6 1102.5C124.2 1103.6 123.5 1104.8 122.8 1105.6C122.1 1106.4 121.3 1107.0 120.5 1107.6C119.7 1108.2 119.0 1108.7 117.7 1109.0C116.5 1109.3 114.6 1109.4 113.0 1109.6C111.4 1109.8 109.1 1109.8 108.3 1110.2C107.5 1110.6 108.1 1111.3 108.4 1111.8C108.7 1112.2 109.2 1112.6 110.0 1112.9C110.8 1113.2 112.2 1113.5 113.3 1113.7C114.4 1113.9 115.8 1114.2 116.8 1114.1C117.8 1114.0 118.4 1113.0 119.2 1113.0C120.0 1113.0 120.8 1113.7 121.6 1113.8C122.4 1113.9 123.2 1113.6 124.0 1113.4C124.8 1113.2 125.6 1113.0 126.2 1112.4C126.8 1111.8 127.4 1110.8 127.8 1110.0C128.2 1109.2 128.4 1108.1 128.8 1107.3C129.2 1106.5 129.7 1105.8 130.3 1105.2C130.9 1104.6 131.7 1103.9 132.2 1103.9C132.7 1104.0 132.8 1104.9 133.2 1105.5C133.6 1106.1 133.6 1106.8 134.7 1107.3C135.8 1107.8 138.0 1108.1 139.7 1108.4C141.4 1108.7 143.2 1109.1 144.9 1109.0C146.6 1108.9 148.3 1108.2 150.0 1107.7C151.7 1107.2 153.4 1106.4 155.0 1106.0C156.6 1105.6 157.9 1105.1 159.5 1105.1C161.1 1105.0 162.9 1105.4 164.5 1105.7C166.1 1106.0 167.4 1106.3 168.9 1106.8C170.4 1107.3 172.5 1108.1 173.7 1108.7C174.9 1109.3 175.5 1109.9 176.3 1110.5C177.1 1111.1 177.9 1111.8 178.4 1112.4C178.9 1113.0 179.0 1113.5 179.3 1114.0C179.6 1114.5 179.5 1115.1 180.3 1115.3C181.1 1115.5 182.8 1115.1 184.0 1114.9C185.2 1114.7 187.1 1114.2 187.8 1114.3C188.5 1114.4 188.1 1115.4 188.3 1115.8C188.5 1116.2 188.5 1116.7 188.8 1116.7C189.1 1116.7 189.8 1116.3 190.3 1116.0C190.8 1115.7 190.6 1115.1 191.6 1114.8C192.6 1114.5 194.9 1114.4 196.5 1114.2C198.1 1114.0 199.9 1113.8 201.1 1113.4C202.3 1113.0 202.9 1112.4 203.5 1111.8C204.1 1111.2 204.6 1110.2 204.9 1109.6C205.2 1109.0 205.3 1108.5 205.4 1108.0C205.5 1107.5 204.9 1107.0 205.3 1106.3C205.7 1105.6 207.0 1104.5 208.0 1103.6C209.0 1102.7 210.9 1101.5 211.5 1101.1" fill="none" stroke="#858585" stroke-width="1"/>
<path d="M128.5 1106.5L131.5 1102.5" fill="none" stroke="#858585" stroke-width="0.8"/>
<path d="M173.7 1108.7L186 1108.5L197.3 1108.2L199.7 1106.3" fill="none" stroke="#858585" stroke-width="0.9"/>
<path d="M191 1108.6L198.4 1108L200 1106.2" fill="none" stroke="#9a9a9a" stroke-width="1.6"/>
<path d="M178 1110.6L183.5 1110" fill="none" stroke="#aaaaaa" stroke-width="1.4"/>
<path d="M91.5 1073.2Q89.6 1068.6 85.3 1063" fill="none" stroke="#666" stroke-width="0.55"/>
<path d="M91.5 1073.2Q90.9 1069.0 87.9 1063.8" fill="none" stroke="#666" stroke-width="0.55"/>
<path d="M91.5 1073.2Q92.2 1069.5 90.4 1064.7" fill="none" stroke="#666" stroke-width="0.55"/>
<path d="M91.5 1073.2Q93.1 1070.6 92.3 1067" fill="none" stroke="#666" stroke-width="0.55"/>
<line x1="97.0" y1="1086.5" x2="101.0" y2="1089.5" stroke="#b5b5b5" stroke-width="0.5"/>
<line x1="97.0" y1="1086.5" x2="106.0" y2="1092.0" stroke="#b5b5b5" stroke-width="0.5"/>
<line x1="97.0" y1="1086.5" x2="111.0" y2="1094.0" stroke="#b5b5b5" stroke-width="0.5"/>
<line x1="88.7" y1="1074.7" x2="145.5" y2="1084.8" stroke="#777" stroke-width="0.8"/>
<path d="M153.5 1088.5C154.5 1090.5 156 1091.3 157.4 1090.9C160.5 1090 159 1082.2 162.3 1082.2C165.8 1082.2 165.2 1091.9 168.8 1091.9C172 1091.9 170.6 1083.4 173.9 1083.4C177.5 1083.4 174.5 1095.3 178.5 1095.3C182.3 1095.3 180.5 1084.6 184.1 1084.6C187.8 1084.6 185.3 1095.3 188.9 1095.3C192.3 1095.3 190.5 1087.7 193.8 1087.7C197.2 1087.7 197 1094 204.5 1094.2" fill="none" stroke="#bbbbbb" stroke-width="2" stroke-linecap="round"/>
<path d="M172.5 1094.5Q176 1096.8 179.5 1095" fill="none" stroke="#bbbbbb" stroke-width="2.6" stroke-linecap="round"/>
<path d="M145.5 1084.8C145.5 1080.5 150.5 1079.3 153 1081.8C155.3 1084.3 154.6 1087.4 153.6 1088.6C150.5 1089.5 146 1088.3 145.5 1084.8Z" fill="#b8b8b8"/>
<g transform="translate(31.3 1061) rotate(14)"><rect x="-11.5" y="-5.0" width="2.4" height="10.0" fill="#6e6e6e" rx="0.8"/>
<rect x="-10.0" y="-1.0" width="10.0" height="2.0" fill="#6e6e6e"/>
<rect x="-1.3" y="-6.9" width="2.6" height="13.8" fill="#6e6e6e" rx="0.8"/>
<rect x="1.3" y="-4.5" width="36.5" height="9.0" fill="#fff" stroke="#6e6e6e" stroke-width="1.1" rx="1.8"/>
<rect x="21.5" y="-2.7" width="14.3" height="5.4" fill="#bdbdbd" rx="0.5"/>
<line x1="4.2" y1="-4.5" x2="3.9" y2="-0.9" stroke="#6e6e6e" stroke-width="1.1"/>
<line x1="9.0" y1="-4.5" x2="8.7" y2="-0.9" stroke="#6e6e6e" stroke-width="1.1"/>
<line x1="13.8" y1="-4.5" x2="13.5" y2="-0.9" stroke="#6e6e6e" stroke-width="1.1"/>
<line x1="18.6" y1="-4.5" x2="18.3" y2="-0.9" stroke="#6e6e6e" stroke-width="1.1"/>
<rect x="38.3" y="-1.9" width="6.5" height="3.8" fill="#fff" stroke="#6e6e6e" stroke-width="1"/>
<line x1="44.8" y1="0.0" x2="60.0" y2="0.2" stroke="#6e6e6e" stroke-width="1"/>
</g>
<defs><linearGradient id="ag" gradientUnits="userSpaceOnUse" x1="0" y1="1051" x2="0" y2="1079"><stop offset="0" stop-color="#3d4460"/><stop offset="0.5" stop-color="#4d5470"/><stop offset="0.8" stop-color="#9da1b3"/><stop offset="1" stop-color="#e4e5ea"/></linearGradient></defs>
<path d="M160.6 1051.4L165.4 1063.2L161.9 1061.6L161.5 1078H159.7L159.3 1061.6L155.8 1063.2Z" fill="url(#ag)"/>
<g transform="translate(30 5.6) rotate(26 160.6 1051.4)"><path d="M160.6 1051.4L165.4 1063.2L161.9 1061.6L161.5 1078H159.7L159.3 1061.6L155.8 1063.2Z" fill="url(#ag)"/>
</g>
<line x1="343.5" y1="1119.6" x2="343.5" y2="1013.7" stroke="#333" stroke-width="1.2"/>
<path d="M343.5 1012.0L345.7 1017.0L343.5 1014.2L341.3 1017.0Z" fill="#333"/>
<line x1="343.0" y1="1119.6" x2="466.8" y2="1119.6" stroke="#333" stroke-width="1.2"/>
<path d="M468.5 1119.6L463.5 1121.8L466.3 1119.6L463.5 1117.4Z" fill="#333"/>
<line x1="378.5" y1="1119.6" x2="378.5" y2="1124.5" stroke="#333" stroke-width="1.1"/>
<line x1="405.0" y1="1119.6" x2="405.0" y2="1124.5" stroke="#333" stroke-width="1.1"/>
<line x1="431.5" y1="1119.6" x2="431.5" y2="1124.5" stroke="#333" stroke-width="1.1"/>
<path d="M343.9 1119.6C344.8 1119.1 347.2 1117.8 349.0 1116.8C350.8 1115.8 352.9 1115.1 354.9 1113.9C356.9 1112.7 359.1 1111.2 361.0 1109.5C362.9 1107.8 364.5 1105.8 366.2 1103.5C367.9 1101.2 369.4 1098.3 371.0 1095.5C372.6 1092.7 374.1 1089.9 375.7 1086.5C377.3 1083.1 378.9 1078.8 380.5 1075.0C382.1 1071.2 383.7 1067.0 385.1 1063.8C386.5 1060.5 387.7 1057.7 389.0 1055.5C390.3 1053.3 391.3 1051.9 392.7 1050.5C394.1 1049.1 396.1 1047.6 397.4 1047.1C398.7 1046.6 399.6 1047.1 400.5 1047.6C401.4 1048.1 401.9 1048.7 403.1 1050.2C404.3 1051.7 406.1 1054.2 407.5 1056.5C408.9 1058.8 410.1 1060.7 411.6 1063.8C413.1 1066.9 414.9 1071.2 416.5 1075.0C418.1 1078.8 419.5 1082.8 421.1 1086.5C422.7 1090.2 424.4 1093.8 426.0 1097.0C427.6 1100.2 429.0 1103.1 430.6 1105.4C432.2 1107.7 433.9 1109.4 435.5 1111.0C437.1 1112.6 438.6 1113.9 440.0 1114.9C441.4 1115.9 442.7 1116.3 444.0 1116.8C445.3 1117.3 447.0 1117.5 447.6 1117.7" fill="none" stroke="#c8283f" stroke-width="2.4" stroke-linecap="round"/>
<text x="382.3" y="1147.6" textLength="44.5" lengthAdjust="spacingAndGlyphs">Time</text>
<text x="0.0" y="0.9" text-anchor="middle" textLength="109.0" lengthAdjust="spacingAndGlyphs" transform="translate(327.2 1065.7) rotate(-90)">Fraction (%)</text>
<text x="35.0" y="1246.9" textLength="143.8" lengthAdjust="spacingAndGlyphs">[U-<tspan font-size="14.6" dy="-8.6">13</tspan><tspan dy="8.6">C] Nutrient</tspan></text>
<text x="70.4" y="1271.3" textLength="72.5" lengthAdjust="spacingAndGlyphs">gavage:</text>
<line x1="18.9" y1="1305.6" x2="53.0" y2="1305.6" stroke="#ff0000" stroke-width="2.4"/>
<circle cx="36.0" cy="1305.6" r="5.7" fill="#ff0000"/>
<text x="63.4" y="1312.2" textLength="63.6" lengthAdjust="spacingAndGlyphs">Proline</text>
<line x1="18.9" y1="1352.9" x2="53.0" y2="1352.9" stroke="#f8a19a" stroke-width="2.4"/>
<circle cx="36.0" cy="1352.9" r="5.7" fill="#f8a19a"/>
<text x="63.4" y="1360.4" textLength="94.1" lengthAdjust="spacingAndGlyphs">Glutamine</text>
<line x1="18.9" y1="1404.7" x2="53.0" y2="1404.7" stroke="#6670ff" stroke-width="2.4"/>
<circle cx="36.0" cy="1404.7" r="5.7" fill="#6670ff"/>
<text x="63.4" y="1411.9" textLength="75.6" lengthAdjust="spacingAndGlyphs">Arginine</text>
<line x1="278.6" y1="1219.0" x2="278.6" y2="1436.1" stroke="#3a3a3a" stroke-width="1.3"/>
<line x1="278.0" y1="1435.5" x2="488.5" y2="1435.5" stroke="#3a3a3a" stroke-width="1.3"/>
<line x1="272.1" y1="1425.5" x2="278.6" y2="1425.5" stroke="#3a3a3a" stroke-width="1.3"/>
<text x="268.6" y="1432.5" text-anchor="end">0</text>
<line x1="272.1" y1="1380.7" x2="278.6" y2="1380.7" stroke="#3a3a3a" stroke-width="1.3"/>
<text x="268.6" y="1387.7" text-anchor="end">25</text>
<line x1="272.1" y1="1335.9" x2="278.6" y2="1335.9" stroke="#3a3a3a" stroke-width="1.3"/>
<text x="268.6" y="1342.9" text-anchor="end">50</text>
<line x1="272.1" y1="1291.1" x2="278.6" y2="1291.1" stroke="#3a3a3a" stroke-width="1.3"/>
<text x="268.6" y="1298.1" text-anchor="end">75</text>
<line x1="272.1" y1="1246.3" x2="278.6" y2="1246.3" stroke="#3a3a3a" stroke-width="1.3"/>
<text x="268.6" y="1253.3" text-anchor="end">100</text>
<line x1="298.5" y1="1435.5" x2="298.5" y2="1442.0" stroke="#3a3a3a" stroke-width="1.3"/>
<line x1="332.2" y1="1435.5" x2="332.2" y2="1442.0" stroke="#3a3a3a" stroke-width="1.3"/>
<line x1="366.3" y1="1435.5" x2="366.3" y2="1442.0" stroke="#3a3a3a" stroke-width="1.3"/>
<line x1="400.3" y1="1435.5" x2="400.3" y2="1442.0" stroke="#3a3a3a" stroke-width="1.3"/>
<line x1="434.3" y1="1435.5" x2="434.3" y2="1442.0" stroke="#3a3a3a" stroke-width="1.3"/>
<line x1="468.6" y1="1435.5" x2="468.6" y2="1442.0" stroke="#3a3a3a" stroke-width="1.3"/>
<text x="0.0" y="0.9" text-anchor="end" transform="translate(304.1 1449.3) rotate(-90)">0</text>
<text x="0.0" y="0.9" text-anchor="end" transform="translate(337.8 1449.3) rotate(-90)">5 min</text>
<text x="0.0" y="0.9" text-anchor="end" transform="translate(371.9 1449.3) rotate(-90)">30 min</text>
<text x="0.0" y="0.9" text-anchor="end" transform="translate(405.9 1449.3) rotate(-90)">1 h</text>
<text x="0.0" y="0.9" text-anchor="end" transform="translate(439.9 1449.3) rotate(-90)">4 h</text>
<text x="0.0" y="0.9" text-anchor="end" transform="translate(474.2 1449.3) rotate(-90)">6 h</text>
<text x="323.0" y="1239.7" textLength="100.0" lengthAdjust="spacingAndGlyphs">Circulating</text>
<text x="332.5" y="1265.4" textLength="80.5" lengthAdjust="spacingAndGlyphs">ornithine</text>
<text x="0.0" y="0.9" text-anchor="middle" textLength="243.0" lengthAdjust="spacingAndGlyphs" transform="translate(214.8 1326.0) rotate(-90)">Fractional contribution (%)</text>
<path d="M298.5 1425.9L332.2 1297.4L366.3 1285.0L400.3 1298.3L434.3 1400.9L468.6 1415.6" fill="none" stroke="#6670ff" stroke-width="3" stroke-linejoin="round"/>
<line x1="332.2" y1="1301.9" x2="332.2" y2="1292.9" stroke="#6670ff" stroke-width="1.2"/>
<line x1="325.6" y1="1292.9" x2="338.8" y2="1292.9" stroke="#6670ff" stroke-width="1.2"/>
<line x1="325.6" y1="1301.9" x2="338.8" y2="1301.9" stroke="#6670ff" stroke-width="1.2"/>
<line x1="366.3" y1="1294.5" x2="366.3" y2="1275.5" stroke="#6670ff" stroke-width="1.2"/>
<line x1="359.7" y1="1275.5" x2="372.9" y2="1275.5" stroke="#6670ff" stroke-width="1.2"/>
<line x1="359.7" y1="1294.5" x2="372.9" y2="1294.5" stroke="#6670ff" stroke-width="1.2"/>
<line x1="400.3" y1="1302.2" x2="400.3" y2="1294.3" stroke="#6670ff" stroke-width="1.2"/>
<line x1="393.7" y1="1294.3" x2="406.9" y2="1294.3" stroke="#6670ff" stroke-width="1.2"/>
<line x1="393.7" y1="1302.2" x2="406.9" y2="1302.2" stroke="#6670ff" stroke-width="1.2"/>
<line x1="434.3" y1="1404.9" x2="434.3" y2="1397.0" stroke="#6670ff" stroke-width="1.2"/>
<line x1="427.7" y1="1397.0" x2="440.9" y2="1397.0" stroke="#6670ff" stroke-width="1.2"/>
<line x1="427.7" y1="1404.9" x2="440.9" y2="1404.9" stroke="#6670ff" stroke-width="1.2"/>
<circle cx="298.5" cy="1425.9" r="5.6" fill="#6670ff"/>
<circle cx="332.2" cy="1297.4" r="5.6" fill="#6670ff"/>
<circle cx="366.3" cy="1285.0" r="5.6" fill="#6670ff"/>
<circle cx="400.3" cy="1298.3" r="5.6" fill="#6670ff"/>
<circle cx="434.3" cy="1400.9" r="5.6" fill="#6670ff"/>
<circle cx="468.6" cy="1415.6" r="5.6" fill="#6670ff"/>
<path d="M298.5 1424.6L332.2 1418.3L366.3 1403.8L400.3 1412.6L434.3 1423.5L468.6 1425.0" fill="none" stroke="#ff0000" stroke-width="3" stroke-linejoin="round"/>
<circle cx="298.5" cy="1424.6" r="5.6" fill="#ff0000"/>
<circle cx="332.2" cy="1418.3" r="5.6" fill="#ff0000"/>
<circle cx="366.3" cy="1403.8" r="5.6" fill="#ff0000"/>
<circle cx="400.3" cy="1412.6" r="5.6" fill="#ff0000"/>
<circle cx="434.3" cy="1423.5" r="5.6" fill="#ff0000"/>
<circle cx="468.6" cy="1425.0" r="5.6" fill="#ff0000"/>
<path d="M298.5 1425.0L332.2 1421.4L366.3 1419.9L400.3 1422.1L434.3 1425.1L468.6 1425.5" fill="none" stroke="#f8a19a" stroke-width="3" stroke-linejoin="round"/>
<circle cx="298.5" cy="1425.0" r="5.6" fill="#f8a19a"/>
<circle cx="332.2" cy="1421.4" r="5.6" fill="#f8a19a"/>
<circle cx="366.3" cy="1419.9" r="5.6" fill="#f8a19a"/>
<circle cx="400.3" cy="1422.1" r="5.6" fill="#f8a19a"/>
<circle cx="434.3" cy="1425.1" r="5.6" fill="#f8a19a"/>
<circle cx="468.6" cy="1425.5" r="5.6" fill="#f8a19a"/>
<circle cx="298.5" cy="1425.9" r="5.6" fill="#6670ff"/>
<line x1="298.5" y1="1424.6" x2="332.2" y2="1418.3" stroke="#ff0000" stroke-width="3"/>
<line x1="298.5" y1="1425.0" x2="332.2" y2="1421.4" stroke="#f8a19a" stroke-width="3"/>
<circle cx="332.2" cy="1418.3" r="5.6" fill="#ff0000"/>
<circle cx="332.2" cy="1421.4" r="5.6" fill="#f8a19a"/>
</g>
<g id="pf">
<text transform="translate(599.5 1009.0) scale(1.09 1)" font-size="31" font-weight="bold" stroke="#000" stroke-width="1.25" stroke-linejoin="round">f</text>
<rect x="869.2" y="1045.0" width="138.3" height="282.8" fill="#d5d6db" rx="21"/>
<rect x="601.0" y="1153.8" width="109.4" height="115.7" fill="#eaeaea" rx="24"/>
<defs>
<linearGradient id="ig" x1="0" y1="0" x2="0" y2="1"><stop offset="0" stop-color="#f3bcb9"/><stop offset="0.12" stop-color="#f0b1b1"/><stop offset="0.5" stop-color="#f2b8b6"/><stop offset="0.85" stop-color="#eeaaac"/><stop offset="1" stop-color="#e79da1"/></linearGradient>
<linearGradient id="fade" x1="0" y1="0" x2="1" y2="0"><stop offset="0" stop-color="#fff" stop-opacity="1"/><stop offset="0.06" stop-color="#fff" stop-opacity="1"/><stop offset="0.13" stop-color="#fff" stop-opacity="0.6"/><stop offset="0.21" stop-color="#fff" stop-opacity="0"/><stop offset="0.83" stop-color="#fff" stop-opacity="0"/><stop offset="0.965" stop-color="#fff" stop-opacity="1"/><stop offset="1" stop-color="#fff" stop-opacity="1"/></linearGradient>
<clipPath id="ic"><path id="ishape" d="M660 1351.5 Q702.1 1347.0 744.2 1351.5 Q748.2 1358.5 752.2 1351.5 Q782.5 1347.0 812.8 1351.5 Q816.8 1358.5 820.8 1351.5 Q851.0999999999999 1347.0 881.4 1351.5 Q885.4 1358.5 889.4 1351.5 Q927.2 1347.0 965 1351.5 L965 1429.5 Q927.2 1434.0 889.4 1429.5 Q885.4 1421.5 881.4 1429.5 Q851.0999999999999 1434.0 820.8 1429.5 Q816.8 1421.5 812.8 1429.5 Q782.5 1434.0 752.2 1429.5 Q748.2 1421.5 744.2 1429.5 Q702.1 1434.0 660 1429.5Z"/></clipPath>
</defs>
<g clip-path="url(#ic)">
<rect x="655.0" y="1340.0" width="315.0" height="100.0" fill="url(#ig)"/>
<path d="M671 1362Q676 1374 672 1388Q668 1402 674 1417M679 1362Q684 1374 680 1388Q676 1402 682 1417M687 1362Q692 1374 688 1388Q684 1402 690 1417M695 1362Q700 1374 696 1388Q692 1402 698 1417M703 1362Q708 1374 704 1388Q700 1402 706 1417M711 1362Q716 1374 712 1388Q708 1402 714 1417M719 1362Q724 1374 720 1388Q716 1402 722 1417M727 1362Q732 1374 728 1388Q724 1402 730 1417M735 1362Q740 1374 736 1388Q732 1402 738 1417M743 1362Q748 1374 744 1388Q740 1402 746 1417M751 1362Q756 1374 752 1388Q748 1402 754 1417M759 1362Q764 1374 760 1388Q756 1402 762 1417M767 1362Q772 1374 768 1388Q764 1402 770 1417M775 1362Q780 1374 776 1388Q772 1402 778 1417M783 1362Q788 1374 784 1388Q780 1402 786 1417M791 1362Q796 1374 792 1388Q788 1402 794 1417M799 1362Q804 1374 800 1388Q796 1402 802 1417M807 1362Q812 1374 808 1388Q804 1402 810 1417M815 1362Q820 1374 816 1388Q812 1402 818 1417M823 1362Q828 1374 824 1388Q820 1402 826 1417M831 1362Q836 1374 832 1388Q828 1402 834 1417M839 1362Q844 1374 840 1388Q836 1402 842 1417M847 1362Q852 1374 848 1388Q844 1402 850 1417M855 1362Q860 1374 856 1388Q852 1402 858 1417M863 1362Q868 1374 864 1388Q860 1402 866 1417M871 1362Q876 1374 872 1388Q868 1402 874 1417M879 1362Q884 1374 880 1388Q876 1402 882 1417M887 1362Q892 1374 888 1388Q884 1402 890 1417M895 1362Q900 1374 896 1388Q892 1402 898 1417M903 1362Q908 1374 904 1388Q900 1402 906 1417M911 1362Q916 1374 912 1388Q908 1402 914 1417M919 1362Q924 1374 920 1388Q916 1402 922 1417M927 1362Q932 1374 928 1388Q924 1402 930 1417M935 1362Q940 1374 936 1388Q932 1402 938 1417M943 1362Q948 1374 944 1388Q940 1402 946 1417M951 1362Q956 1374 952 1388Q948 1402 954 1417M959 1362Q964 1374 960 1388Q956 1402 962 1417" fill="none" stroke="#f7cfcb" stroke-width="2.4" stroke-linecap="round" opacity="0.85"/>
<path d="M675 1363Q680 1375 676 1388Q672 1402 678 1416M683 1363Q688 1375 684 1388Q680 1402 686 1416M691 1363Q696 1375 692 1388Q688 1402 694 1416M699 1363Q704 1375 700 1388Q696 1402 702 1416M707 1363Q712 1375 708 1388Q704 1402 710 1416M715 1363Q720 1375 716 1388Q712 1402 718 1416M723 1363Q728 1375 724 1388Q720 1402 726 1416M731 1363Q736 1375 732 1388Q728 1402 734 1416M739 1363Q744 1375 740 1388Q736 1402 742 1416M747 1363Q752 1375 748 1388Q744 1402 750 1416M755 1363Q760 1375 756 1388Q752 1402 758 1416M763 1363Q768 1375 764 1388Q760 1402 766 1416M771 1363Q776 1375 772 1388Q768 1402 774 1416M779 1363Q784 1375 780 1388Q776 1402 782 1416M787 1363Q792 1375 788 1388Q784 1402 790 1416M795 1363Q800 1375 796 1388Q792 1402 798 1416M803 1363Q808 1375 804 1388Q800 1402 806 1416M811 1363Q816 1375 812 1388Q808 1402 814 1416M819 1363Q824 1375 820 1388Q816 1402 822 1416M827 1363Q832 1375 828 1388Q824 1402 830 1416M835 1363Q840 1375 836 1388Q832 1402 838 1416M843 1363Q848 1375 844 1388Q840 1402 846 1416M851 1363Q856 1375 852 1388Q848 1402 854 1416M859 1363Q864 1375 860 1388Q856 1402 862 1416M867 1363Q872 1375 868 1388Q864 1402 870 1416M875 1363Q880 1375 876 1388Q872 1402 878 1416M883 1363Q888 1375 884 1388Q880 1402 886 1416M891 1363Q896 1375 892 1388Q888 1402 894 1416M899 1363Q904 1375 900 1388Q896 1402 902 1416M907 1363Q912 1375 908 1388Q904 1402 910 1416M915 1363Q920 1375 916 1388Q912 1402 918 1416M923 1363Q928 1375 924 1388Q920 1402 926 1416M931 1363Q936 1375 932 1388Q928 1402 934 1416M939 1363Q944 1375 940 1388Q936 1402 942 1416M947 1363Q952 1375 948 1388Q944 1402 950 1416M955 1363Q960 1375 956 1388Q952 1402 958 1416M963 1363Q968 1375 964 1388Q960 1402 966 1416" fill="none" stroke="#e8a0a3" stroke-width="0.9" opacity="0.75"/>
<rect x="655.0" y="1383.0" width="315.0" height="12.0" fill="#f4c0bd" opacity="0.55"/>
<path d="M750.2 1358C731.2 1374 731.2 1406 750.2 1421" fill="none" stroke="#e0959b" stroke-width="3.2" opacity="0.9"/>
<path d="M753.2 1358C734.7 1374 734.7 1406 753.2 1421" fill="none" stroke="#f6cbc7" stroke-width="2.2" opacity="0.9"/>
<path d="M818.8 1358C799.8 1374 799.8 1406 818.8 1421" fill="none" stroke="#e0959b" stroke-width="3.2" opacity="0.9"/>
<path d="M821.8 1358C803.3 1374 803.3 1406 821.8 1421" fill="none" stroke="#f6cbc7" stroke-width="2.2" opacity="0.9"/>
<path d="M887.4 1358C868.4 1374 868.4 1406 887.4 1421" fill="none" stroke="#e0959b" stroke-width="3.2" opacity="0.9"/>
<path d="M890.4 1358C871.9 1374 871.9 1406 890.4 1421" fill="none" stroke="#f6cbc7" stroke-width="2.2" opacity="0.9"/>
<path d="M660 1427.5 Q702.1 1432.0 744.2 1427.5 Q748.2 1419.5 752.2 1427.5 Q782.5 1432.0 812.8 1427.5 Q816.8 1419.5 820.8 1427.5 Q851.0999999999999 1432.0 881.4 1427.5 Q885.4 1419.5 889.4 1427.5 Q927.2 1432.0 965 1427.5" fill="none" stroke="#d68790" stroke-width="8"/>
<path d="M660 1421.2 Q702.1 1425.7 744.2 1421.2 Q748.2 1413.2 752.2 1421.2 Q782.5 1425.7 812.8 1421.2 Q816.8 1413.2 820.8 1421.2 Q851.0999999999999 1425.7 881.4 1421.2 Q885.4 1413.2 889.4 1421.2 Q927.2 1425.7 965 1421.2" fill="none" stroke="#f8d6d1" stroke-width="1.8"/>
<path d="M660 1419.3 Q702.1 1423.8 744.2 1419.3 Q748.2 1411.3 752.2 1419.3 Q782.5 1423.8 812.8 1419.3 Q816.8 1411.3 820.8 1419.3 Q851.0999999999999 1423.8 881.4 1419.3 Q885.4 1411.3 889.4 1419.3 Q927.2 1423.8 965 1419.3" fill="none" stroke="#dd9298" stroke-width="0.9"/>
<path d="M660 1352.8 Q702.1 1348.3 744.2 1352.8 Q748.2 1359.8 752.2 1352.8 Q782.5 1348.3 812.8 1352.8 Q816.8 1359.8 820.8 1352.8 Q851.0999999999999 1348.3 881.4 1352.8 Q885.4 1359.8 889.4 1352.8 Q927.2 1348.3 965 1352.8" fill="none" stroke="#f9dcd7" stroke-width="3"/>
<path d="M660 1355.3 Q702.1 1350.8 744.2 1355.3 Q748.2 1362.3 752.2 1355.3 Q782.5 1350.8 812.8 1355.3 Q816.8 1362.3 820.8 1355.3 Q851.0999999999999 1350.8 881.4 1355.3 Q885.4 1362.3 889.4 1355.3 Q927.2 1350.8 965 1355.3" fill="none" stroke="#dc9096" stroke-width="1"/>
<path d="M660 1357 Q702.1 1352.5 744.2 1357 Q748.2 1364 752.2 1357 Q782.5 1352.5 812.8 1357 Q816.8 1364 820.8 1357 Q851.0999999999999 1352.5 881.4 1357 Q885.4 1364 889.4 1357 Q927.2 1352.5 965 1357" fill="none" stroke="#f8d3ce" stroke-width="1.6"/>
</g>
<use href="#ishape" fill="none" stroke="#e3979d" stroke-width="0.7"/>
<rect x="658.0" y="1338.0" width="309.0" height="104.0" fill="url(#fade)"/>
<g transform="translate(567 1379.1) rotate(-18)"><rect x="-13.5" y="-6.5" width="27" height="13" rx="2.2" fill="#a9a9a9" stroke="#8f8f8f" stroke-width="0.7"/><rect x="10.3" y="-6.1" width="2.8" height="12.2" rx="1.2" fill="#c2c2c2"/><path d="M-6.8 -1q2 -2 4 0M3.4 2q2 -2 4 0" stroke="#9a9a9a" stroke-width="0.6" fill="none"/></g>
<g transform="translate(546.2 1395.4) rotate(-18)"><rect x="-12.0" y="-6.0" width="24" height="12" rx="2.2" fill="#adadad" stroke="#8f8f8f" stroke-width="0.7"/><rect x="8.8" y="-5.6" width="2.8" height="11.2" rx="1.2" fill="#c2c2c2"/><path d="M-6.0 -1q2 -2 4 0M3.0 2q2 -2 4 0" stroke="#9a9a9a" stroke-width="0.6" fill="none"/></g>
<g transform="translate(598 1387.9) rotate(20)"><rect x="-12.0" y="-6.5" width="24" height="13" rx="2.2" fill="#a6a6a6" stroke="#8f8f8f" stroke-width="0.7"/><rect x="8.8" y="-6.1" width="2.8" height="12.2" rx="1.2" fill="#c2c2c2"/><path d="M-6.0 -1q2 -2 4 0M3.0 2q2 -2 4 0" stroke="#9a9a9a" stroke-width="0.6" fill="none"/></g>
<g transform="translate(570.3 1389.8) rotate(-20)"><rect x="-15.0" y="-6.75" width="30" height="13.5" rx="2.2" fill="#ababab" stroke="#8f8f8f" stroke-width="0.7"/><rect x="11.8" y="-6.35" width="2.8" height="12.7" rx="1.2" fill="#c2c2c2"/><path d="M-7.5 -1q2 -2 4 0M3.8 2q2 -2 4 0" stroke="#9a9a9a" stroke-width="0.6" fill="none"/></g>
<g transform="translate(611.4 1395) rotate(-20)"><rect x="-13.0" y="-6.75" width="26" height="13.5" rx="2.2" fill="#a8a8a8" stroke="#8f8f8f" stroke-width="0.7"/><rect x="9.8" y="-6.35" width="2.8" height="12.7" rx="1.2" fill="#c2c2c2"/><path d="M-6.5 -1q2 -2 4 0M3.2 2q2 -2 4 0" stroke="#9a9a9a" stroke-width="0.6" fill="none"/></g>
<g transform="translate(585.2 1404.7) rotate(-8)"><rect x="-12.0" y="-6.5" width="24" height="13" rx="2.2" fill="#a4a4a4" stroke="#8f8f8f" stroke-width="0.7"/><rect x="8.8" y="-6.1" width="2.8" height="12.2" rx="1.2" fill="#c2c2c2"/><path d="M-6.0 -1q2 -2 4 0M3.0 2q2 -2 4 0" stroke="#9a9a9a" stroke-width="0.6" fill="none"/></g>
<g transform="translate(569.1 1402.5) rotate(-22)"><rect x="-13.5" y="-7.0" width="27" height="14" rx="2.2" fill="#aaaaaa" stroke="#8f8f8f" stroke-width="0.7"/><rect x="10.3" y="-6.6" width="2.8" height="13.2" rx="1.2" fill="#c2c2c2"/><path d="M-6.8 -1q2 -2 4 0M3.4 2q2 -2 4 0" stroke="#9a9a9a" stroke-width="0.6" fill="none"/></g>
<g transform="translate(528.7 1406.9) rotate(0)"><rect x="-11.7" y="-6.5" width="23.4" height="13" rx="2.2" fill="#a9a9a9" stroke="#8f8f8f" stroke-width="0.7"/><rect x="8.5" y="-6.1" width="2.8" height="12.2" rx="1.2" fill="#c2c2c2"/><path d="M-5.8 -1q2 -2 4 0M2.9 2q2 -2 4 0" stroke="#9a9a9a" stroke-width="0.6" fill="none"/></g>
<g transform="translate(552.5 1406.8) rotate(1)"><rect x="-12.0" y="-6.75" width="24" height="13.5" rx="2.2" fill="#ababab" stroke="#8f8f8f" stroke-width="0.7"/><rect x="8.8" y="-6.35" width="2.8" height="12.7" rx="1.2" fill="#c2c2c2"/><path d="M-6.0 -1q2 -2 4 0M3.0 2q2 -2 4 0" stroke="#9a9a9a" stroke-width="0.6" fill="none"/></g>
<g transform="translate(625.6 1405.8) rotate(-3)"><rect x="-10.0" y="-6.5" width="20" height="13" rx="2.2" fill="#a9a9a9" stroke="#8f8f8f" stroke-width="0.7"/><rect x="6.8" y="-6.1" width="2.8" height="12.2" rx="1.2" fill="#c2c2c2"/><path d="M-5.0 -1q2 -2 4 0M2.5 2q2 -2 4 0" stroke="#9a9a9a" stroke-width="0.6" fill="none"/></g>
<g transform="translate(602.5 1406.9) rotate(0)"><rect x="-13.0" y="-6.75" width="26" height="13.5" rx="2.2" fill="#acacac" stroke="#8f8f8f" stroke-width="0.7"/><rect x="9.8" y="-6.35" width="2.8" height="12.7" rx="1.2" fill="#c2c2c2"/><path d="M-6.5 -1q2 -2 4 0M3.2 2q2 -2 4 0" stroke="#9a9a9a" stroke-width="0.6" fill="none"/></g>
<path d="M740.8 1077.8C741.9 1081.4 745.6 1092.3 747.2 1099.6C748.9 1106.9 750.0 1114.6 750.7 1121.7C751.4 1128.8 751.8 1135.2 751.5 1142.2C751.2 1149.2 751.1 1154.0 748.9 1163.8C746.7 1173.6 741.4 1190.2 738.3 1200.9C735.1 1211.6 731.8 1221.4 730.0 1228.0C728.2 1234.6 728.1 1235.9 727.7 1240.7C727.3 1245.5 726.4 1248.7 727.7 1256.6C729.0 1264.5 732.7 1279.2 735.7 1288.3C738.8 1297.4 742.0 1303.6 746.0 1311.0C750.0 1318.4 757.2 1329.2 759.5 1332.8" fill="none" stroke="#c8283f" stroke-width="2.4" stroke-linecap="round"/>
<path d="M843.5 1073.2C844.5 1077.0 847.9 1089.0 849.4 1096.2C850.9 1103.4 852.1 1110.1 852.8 1116.6C853.5 1123.1 854.0 1127.5 853.7 1135.4C853.4 1143.3 853.4 1152.9 850.9 1163.8C848.4 1174.7 842.4 1190.3 839.0 1200.9C835.6 1211.5 832.0 1219.9 830.5 1227.4C829.0 1234.9 829.0 1237.6 829.7 1246.0C830.5 1254.4 831.9 1267.1 835.0 1277.7C838.1 1288.3 843.8 1301.0 848.3 1309.5C852.8 1318.0 860.0 1325.4 862.3 1328.6" fill="none" stroke="#c8283f" stroke-width="2.4" stroke-linecap="round"/>
<g transform="translate(792.9 1091.1) rotate(-4)"><ellipse cx="0" cy="0" rx="19.1" ry="14.5" fill="#d46d7b"/><ellipse cx="0" cy="-0.6" rx="18.6" ry="13.6" fill="#dc7f8b"/><path d="M-11 -2.5C-9 -8 3 -10 7.5 -7.5C2 -6.5 -3.5 -3 -4.5 3C-8 2.5 -11.5 0.5 -11 -2.5Z" fill="#bf6577"/><path d="M1.5 4C6 4 11 2 13 -1.5" fill="none" stroke="#f2b3ba" stroke-width="1.1" stroke-linecap="round"/></g>
<g transform="translate(772.8 1296.3) rotate(-4)"><ellipse cx="0" cy="0" rx="19.1" ry="14.5" fill="#d46d7b"/><ellipse cx="0" cy="-0.6" rx="18.6" ry="13.6" fill="#dc7f8b"/><path d="M-11 -2.5C-9 -8 3 -10 7.5 -7.5C2 -6.5 -3.5 -3 -4.5 3C-8 2.5 -11.5 0.5 -11 -2.5Z" fill="#bf6577"/><path d="M1.5 4C6 4 11 2 13 -1.5" fill="none" stroke="#f2b3ba" stroke-width="1.1" stroke-linecap="round"/></g>
<text x="867.0" y="1033.2" textLength="141.8" lengthAdjust="spacingAndGlyphs">Neuroblastoma</text>
<text x="743.3" y="1067.8" textLength="99.4" lengthAdjust="spacingAndGlyphs">Circulation</text>
<text x="890.4" y="1078.8" textLength="94.1" lengthAdjust="spacingAndGlyphs">Glutamine</text>
<text x="774.7" y="1127.0" textLength="63.6" lengthAdjust="spacingAndGlyphs">Proline</text>
<text x="906.3" y="1127.0" textLength="63.7" lengthAdjust="spacingAndGlyphs">Proline</text>
<text x="625.3" y="1146.9" textLength="59.7" lengthAdjust="spacingAndGlyphs">Tissue</text>
<text x="617.4" y="1184.9" textLength="75.6" lengthAdjust="spacingAndGlyphs">Arginine</text>
<text x="761.4" y="1184.9" textLength="75.1" lengthAdjust="spacingAndGlyphs">Arginine</text>
<text x="900.6" y="1184.9" textLength="76.0" lengthAdjust="spacingAndGlyphs">Arginine</text>
<text x="609.9" y="1249.8" textLength="84.8" lengthAdjust="spacingAndGlyphs">Ornithine</text>
<text x="741.5" y="1249.8" textLength="84.9" lengthAdjust="spacingAndGlyphs">Ornithine</text>
<text x="896.2" y="1249.8" textLength="83.9" lengthAdjust="spacingAndGlyphs">Ornithine</text>
<text x="885.1" y="1312.6" textLength="106.1" lengthAdjust="spacingAndGlyphs">Polyamines</text>
<text x="638.1" y="1377.9" textLength="73.3" lengthAdjust="spacingAndGlyphs">Arginine</text>
<text x="644.3" y="1400.6" textLength="61.5" lengthAdjust="spacingAndGlyphs">proline</text>
<text x="759.2" y="1392.1" textLength="83.8" lengthAdjust="spacingAndGlyphs">Ornithine</text>
<text x="514.2" y="1439.4" textLength="126.3" lengthAdjust="spacingAndGlyphs">Dietary intake</text>
<text x="772.0" y="1451.2" textLength="78.0" lengthAdjust="spacingAndGlyphs">Intestine</text>
<line x1="934.2" y1="1086.0" x2="934.2" y2="1100.7" stroke="#000" stroke-width="1.55"/>
<path d="M934.2 1107.2L929.9 1097.4L934.2 1100.2L938.5 1097.4Z" fill="#000"/>
<line x1="852.1" y1="1120.1" x2="881.6" y2="1120.1" stroke="#000" stroke-width="1.55"/>
<path d="M888.1 1120.1L878.3 1124.4L881.1 1120.1L878.3 1115.8Z" fill="#000"/>
<line x1="750.0" y1="1178.1" x2="718.0" y2="1178.1" stroke="#000" stroke-width="1.55"/>
<path d="M711.5 1178.1L721.3 1173.8L718.5 1178.1L721.3 1182.4Z" fill="#000"/>
<line x1="846.0" y1="1178.1" x2="875.1" y2="1178.1" stroke="#000" stroke-width="1.55"/>
<path d="M881.6 1178.1L871.8 1182.4L874.6 1178.1L871.8 1173.8Z" fill="#000"/>
<line x1="655.0" y1="1193.0" x2="655.0" y2="1222.5" stroke="#000" stroke-width="1.55"/>
<path d="M655.0 1229.0L650.7 1219.2L655.0 1222.0L659.3 1219.2Z" fill="#000"/>
<line x1="707.0" y1="1243.4" x2="725.5" y2="1243.4" stroke="#000" stroke-width="1.55"/>
<path d="M732.0 1243.4L722.2 1247.7L725.0 1243.4L722.2 1239.1Z" fill="#000"/>
<line x1="838.3" y1="1243.4" x2="871.0" y2="1243.4" stroke="#000" stroke-width="1.55"/>
<path d="M877.5 1243.4L867.7 1247.7L870.5 1243.4L867.7 1239.1Z" fill="#000"/>
<line x1="933.9" y1="1186.0" x2="933.9" y2="1196.0" stroke="#000" stroke-width="1.45"/>
<line x1="933.9" y1="1213.2" x2="933.9" y2="1222.7" stroke="#000" stroke-width="1.55" stroke-dasharray="3 1.6"/>
<path d="M933.9 1229.2L929.6 1219.4L933.9 1222.2L938.2 1219.4Z" fill="#000"/>
<line x1="933.9" y1="1254.0" x2="933.9" y2="1289.0" stroke="#000" stroke-width="1.55"/>
<path d="M933.9 1295.5L929.6 1285.7L933.9 1288.5L938.2 1285.7Z" fill="#000"/>
<line x1="799.0" y1="1372.0" x2="799.0" y2="1267.0" stroke="#000" stroke-width="1.55"/>
<path d="M799.0 1260.5L803.3 1270.3L799.0 1267.5L794.7 1270.3Z" fill="#000"/>
<line x1="715.2" y1="1386.2" x2="747.0" y2="1386.2" stroke="#000" stroke-width="1.55"/>
<path d="M753.5 1386.2L743.7 1390.5L746.5 1386.2L743.7 1381.9Z" fill="#000"/>
<path d="M926.3 1198.1L941.5 1212.5M941.5 1198.1L926.3 1212.5" fill="none" stroke="#1a1a1a" stroke-width="5.3"/>
</g>
</svg>
</body></html>
